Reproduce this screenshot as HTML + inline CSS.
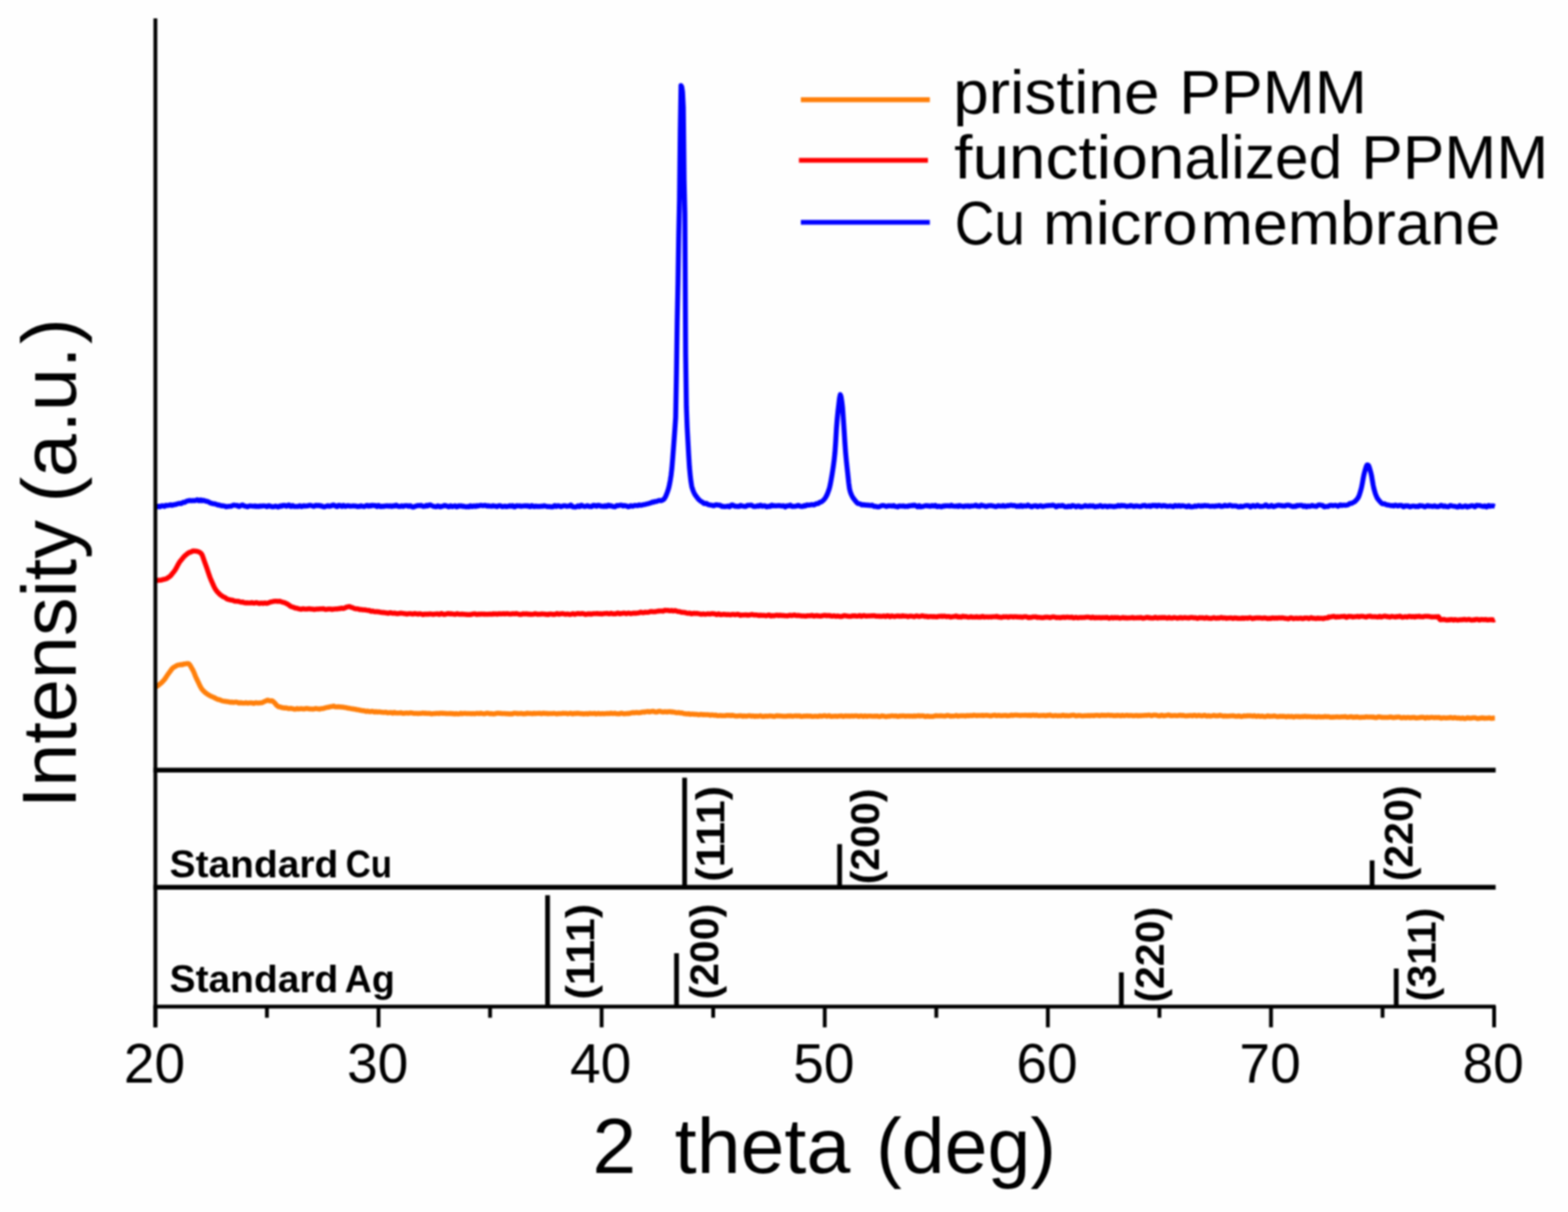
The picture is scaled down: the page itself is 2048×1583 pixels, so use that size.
<!DOCTYPE html>
<html lang="en">
<head>
<meta charset="utf-8">
<title>XRD patterns</title>
<style>
html,body{margin:0;padding:0;background:#fefefe;}
body{width:2048px;height:1583px;overflow:hidden;}
svg{display:block;filter:blur(0.8px);}
text{font-family:"Liberation Sans",sans-serif;fill:#000;}
.ax line{stroke:#000;}
.bold text{font-weight:bold;font-size:50px;}
.bold .r text{font-size:52px;}
.tl text{font-size:72px;}
.lg text{font-size:80px;}
.big{font-size:101px;}
.curve{fill:none;stroke-linejoin:round;stroke-linecap:butt;}
</style>
</head>
<body>
<svg width="2048" height="1583" viewBox="0 0 2048 1583">
<rect x="-10" y="-10" width="2068" height="1603" fill="#fefefe"/>
<g class="curve" stroke-width="6.5">
<path stroke="#ff7f0a" d="M202.5 897.5 L203.5 897.0 L204.5 896.6 L205.5 896.1 L206.5 895.4 L207.5 894.5 L208.5 893.6 L209.5 892.9 L210.5 892.1 L211.5 891.2 L212.5 890.1 L213.5 889.0 L214.5 887.9 L215.5 886.6 L216.5 885.1 L217.5 883.5 L218.5 882.0 L219.5 880.5 L220.5 879.2 L221.5 877.8 L222.5 876.5 L223.5 875.1 L224.5 873.8 L225.5 872.7 L226.5 871.8 L227.5 871.2 L228.5 870.8 L229.5 870.1 L230.5 869.4 L231.5 869.0 L232.5 868.7 L233.5 868.6 L234.5 868.4 L235.5 868.1 L236.5 868.1 L237.5 868.2 L238.5 868.0 L239.5 867.5 L240.5 867.3 L241.5 867.3 L242.5 867.1 L243.5 866.8 L244.5 866.8 L245.5 866.7 L246.5 866.9 L247.5 867.8 L248.5 869.3 L249.5 871.0 L250.5 872.8 L251.5 874.5 L252.5 876.5 L253.5 878.8 L254.5 881.2 L255.5 883.7 L256.5 886.0 L257.5 888.0 L258.5 890.1 L259.5 892.2 L260.5 894.3 L261.5 896.3 L262.5 898.1 L263.5 899.8 L264.5 901.0 L265.5 902.1 L266.5 903.2 L267.5 904.1 L268.5 904.9 L269.5 905.7 L270.5 906.4 L271.5 907.1 L272.5 907.6 L273.5 908.2 L274.5 908.8 L275.5 909.3 L276.5 909.7 L277.5 910.2 L278.5 910.6 L279.5 911.0 L280.5 911.5 L281.5 912.2 L282.5 912.6 L283.5 913.1 L284.5 913.5 L285.5 913.7 L286.5 913.8 L287.5 914.1 L288.5 914.7 L289.5 915.1 L290.5 915.4 L291.5 915.6 L292.5 915.8 L293.5 915.9 L294.5 916.0 L295.5 916.2 L296.5 916.4 L297.5 916.5 L298.5 916.6 L299.5 916.9 L300.5 917.2 L301.5 917.2 L302.5 917.0 L303.5 917.1 L304.5 917.4 L305.5 917.4 L306.5 917.2 L307.5 917.1 L308.5 917.1 L309.5 917.2 L310.5 917.5 L311.5 918.0 L312.5 918.2 L313.5 918.0 L314.5 917.8 L315.5 918.0 L316.5 918.2 L317.5 918.2 L318.5 918.3 L319.5 918.3 L320.5 918.0 L321.5 917.8 L322.5 918.1 L323.5 918.4 L324.5 918.3 L325.5 918.1 L326.5 918.1 L327.5 918.1 L328.5 918.0 L329.5 918.2 L330.5 918.6 L331.5 918.7 L332.5 918.3 L333.5 917.9 L334.5 917.8 L335.5 918.1 L336.5 918.2 L337.5 918.2 L338.5 918.2 L339.5 917.9 L340.5 918.0 L341.5 918.0 L342.5 917.7 L343.5 917.3 L344.5 916.7 L345.5 916.2 L346.5 915.9 L347.5 915.4 L348.5 914.8 L349.5 914.4 L350.5 914.6 L351.5 915.2 L352.5 915.6 L353.5 915.6 L354.5 915.3 L355.5 915.3 L356.5 916.0 L357.5 916.9 L358.5 917.8 L359.5 918.9 L360.5 920.2 L361.5 921.3 L362.5 922.2 L363.5 922.9 L364.5 923.3 L365.5 923.2 L366.5 923.4 L367.5 924.1 L368.5 924.3 L369.5 924.3 L370.5 924.5 L371.5 924.8 L372.5 924.6 L373.5 924.5 L374.5 924.8 L375.5 925.0 L376.5 925.4 L377.5 925.6 L378.5 925.4 L379.5 925.1 L380.5 925.3 L381.5 925.6 L382.5 925.7 L383.5 926.0 L384.5 926.3 L385.5 926.3 L386.5 926.1 L387.5 925.5 L388.5 925.6 L389.5 926.0 L390.5 925.9 L391.5 925.8 L392.5 925.6 L393.5 925.6 L394.5 925.8 L395.5 925.8 L396.5 926.1 L397.5 926.1 L398.5 925.7 L399.5 925.4 L400.5 925.3 L401.5 925.4 L402.5 925.5 L403.5 925.8 L404.5 926.0 L405.5 926.0 L406.5 926.0 L407.5 926.1 L408.5 926.2 L409.5 926.1 L410.5 926.0 L411.5 925.7 L412.5 925.3 L413.5 925.6 L414.5 925.8 L415.5 925.8 L416.5 926.1 L417.5 926.2 L418.5 925.8 L419.5 925.4 L420.5 925.4 L421.5 925.4 L422.5 925.3 L423.5 924.9 L424.5 924.5 L425.5 924.5 L426.5 924.2 L427.5 923.9 L428.5 923.7 L429.5 923.7 L430.5 923.3 L431.5 922.9 L432.5 922.9 L433.5 922.8 L434.5 922.6 L435.5 922.3 L436.5 922.5 L437.5 923.1 L438.5 923.3 L439.5 923.3 L440.5 923.2 L441.5 923.1 L442.5 923.2 L443.5 923.2 L444.5 923.3 L445.5 923.5 L446.5 923.5 L447.5 923.5 L448.5 923.7 L449.5 924.0 L450.5 924.1 L451.5 924.2 L452.5 924.3 L453.5 924.6 L454.5 925.0 L455.5 925.0 L456.5 924.9 L457.5 925.3 L458.5 925.6 L459.5 925.8 L460.5 925.8 L461.5 926.0 L462.5 926.2 L463.5 926.2 L464.5 926.3 L465.5 926.8 L466.5 927.0 L467.5 926.9 L468.5 927.1 L469.5 927.5 L470.5 927.7 L471.5 927.7 L472.5 928.1 L473.5 928.3 L474.5 928.3 L475.5 928.3 L476.5 928.6 L477.5 929.1 L478.5 929.2 L479.5 928.8 L480.5 928.8 L481.5 929.2 L482.5 929.6 L483.5 929.5 L484.5 929.3 L485.5 929.1 L486.5 929.1 L487.5 929.4 L488.5 929.9 L489.5 929.9 L490.5 929.5 L491.5 929.6 L492.5 930.1 L493.5 930.1 L494.5 929.8 L495.5 929.7 L496.5 929.9 L497.5 930.2 L498.5 930.2 L499.5 930.3 L500.5 930.4 L501.5 930.4 L502.5 930.4 L503.5 930.2 L504.5 930.3 L505.5 930.8 L506.5 931.1 L507.5 930.9 L508.5 930.8 L509.5 930.8 L510.5 930.6 L511.5 930.8 L512.5 931.4 L513.5 931.3 L514.5 930.6 L515.5 930.6 L516.5 931.0 L517.5 931.2 L518.5 931.3 L519.5 931.3 L520.5 931.2 L521.5 931.3 L522.5 931.1 L523.5 930.8 L524.5 931.1 L525.5 931.6 L526.5 931.7 L527.5 931.5 L528.5 931.6 L529.5 931.5 L530.5 931.2 L531.5 931.2 L532.5 931.5 L533.5 931.6 L534.5 931.3 L535.5 931.0 L536.5 931.1 L537.5 931.2 L538.5 931.2 L539.5 931.6 L540.5 931.8 L541.5 931.7 L542.5 931.8 L543.5 931.7 L544.5 931.7 L545.5 932.0 L546.5 931.9 L547.5 931.8 L548.5 931.8 L549.5 931.8 L550.5 931.7 L551.5 931.4 L552.5 931.3 L553.5 931.6 L554.5 931.7 L555.5 931.5 L556.5 931.6 L557.5 931.8 L558.5 931.8 L559.5 931.9 L560.5 931.7 L561.5 931.7 L562.5 932.2 L563.5 932.4 L564.5 932.3 L565.5 932.1 L566.5 931.9 L567.5 932.0 L568.5 932.0 L569.5 931.8 L570.5 931.7 L571.5 931.7 L572.5 932.0 L573.5 932.0 L574.5 931.5 L575.5 931.5 L576.5 931.6 L577.5 931.7 L578.5 931.6 L579.5 931.7 L580.5 931.8 L581.5 931.8 L582.5 932.0 L583.5 932.0 L584.5 931.9 L585.5 931.9 L586.5 931.9 L587.5 932.0 L588.5 931.8 L589.5 932.1 L590.5 932.2 L591.5 932.0 L592.5 932.2 L593.5 932.6 L594.5 932.5 L595.5 932.1 L596.5 932.2 L597.5 932.5 L598.5 932.4 L599.5 932.4 L600.5 932.1 L601.5 931.6 L602.5 931.8 L603.5 932.2 L604.5 932.1 L605.5 931.9 L606.5 931.7 L607.5 931.7 L608.5 932.0 L609.5 932.1 L610.5 932.1 L611.5 931.9 L612.5 932.0 L613.5 932.0 L614.5 932.1 L615.5 932.2 L616.5 932.2 L617.5 931.9 L618.5 931.9 L619.5 932.3 L620.5 932.2 L621.5 931.9 L622.5 931.8 L623.5 931.8 L624.5 931.8 L625.5 932.1 L626.5 932.0 L627.5 931.6 L628.5 931.6 L629.5 931.9 L630.5 932.1 L631.5 932.3 L632.5 932.3 L633.5 932.2 L634.5 931.9 L635.5 931.6 L636.5 931.5 L637.5 931.5 L638.5 931.8 L639.5 932.2 L640.5 932.2 L641.5 932.0 L642.5 932.2 L643.5 932.4 L644.5 932.4 L645.5 932.5 L646.5 932.2 L647.5 932.0 L648.5 931.8 L649.5 931.4 L650.5 931.4 L651.5 931.7 L652.5 931.8 L653.5 931.6 L654.5 931.8 L655.5 932.1 L656.5 932.0 L657.5 932.0 L658.5 932.0 L659.5 931.9 L660.5 932.2 L661.5 932.3 L662.5 932.1 L663.5 932.3 L664.5 932.5 L665.5 932.4 L666.5 932.3 L667.5 932.4 L668.5 932.6 L669.5 932.4 L670.5 931.8 L671.5 931.4 L672.5 931.6 L673.5 931.7 L674.5 931.7 L675.5 932.0 L676.5 932.2 L677.5 931.9 L678.5 931.9 L679.5 932.1 L680.5 931.8 L681.5 931.8 L682.5 932.1 L683.5 932.4 L684.5 932.3 L685.5 932.1 L686.5 932.2 L687.5 932.0 L688.5 931.5 L689.5 931.6 L690.5 931.9 L691.5 932.1 L692.5 931.7 L693.5 931.7 L694.5 932.3 L695.5 932.3 L696.5 931.7 L697.5 931.6 L698.5 932.1 L699.5 932.1 L700.5 931.8 L701.5 931.7 L702.5 931.8 L703.5 931.8 L704.5 931.6 L705.5 931.6 L706.5 932.1 L707.5 932.2 L708.5 931.6 L709.5 931.4 L710.5 931.7 L711.5 932.0 L712.5 931.8 L713.5 931.7 L714.5 932.0 L715.5 932.2 L716.5 932.0 L717.5 931.9 L718.5 932.0 L719.5 932.0 L720.5 932.1 L721.5 932.1 L722.5 931.9 L723.5 931.7 L724.5 931.9 L725.5 932.1 L726.5 932.3 L727.5 932.4 L728.5 932.2 L729.5 932.0 L730.5 932.1 L731.5 932.1 L732.5 932.1 L733.5 932.1 L734.5 931.7 L735.5 931.6 L736.5 931.8 L737.5 931.8 L738.5 931.7 L739.5 931.7 L740.5 932.0 L741.5 932.3 L742.5 932.1 L743.5 931.8 L744.5 931.7 L745.5 931.6 L746.5 931.8 L747.5 932.4 L748.5 932.3 L749.5 931.8 L750.5 931.8 L751.5 932.0 L752.5 932.0 L753.5 931.6 L754.5 931.6 L755.5 931.9 L756.5 931.8 L757.5 931.9 L758.5 932.2 L759.5 932.2 L760.5 932.1 L761.5 932.4 L762.5 932.5 L763.5 932.3 L764.5 932.3 L765.5 932.1 L766.5 932.1 L767.5 932.5 L768.5 932.3 L769.5 931.8 L770.5 931.8 L771.5 931.9 L772.5 932.1 L773.5 932.1 L774.5 932.0 L775.5 931.9 L776.5 931.8 L777.5 932.0 L778.5 932.4 L779.5 932.3 L780.5 931.9 L781.5 931.8 L782.5 932.0 L783.5 932.2 L784.5 932.3 L785.5 932.2 L786.5 932.1 L787.5 932.1 L788.5 932.3 L789.5 932.3 L790.5 931.9 L791.5 931.9 L792.5 932.1 L793.5 931.9 L794.5 931.8 L795.5 932.1 L796.5 932.0 L797.5 931.6 L798.5 931.5 L799.5 931.8 L800.5 932.0 L801.5 932.0 L802.5 931.7 L803.5 931.6 L804.5 932.1 L805.5 932.2 L806.5 932.2 L807.5 932.2 L808.5 932.4 L809.5 932.2 L810.5 931.6 L811.5 931.4 L812.5 931.6 L813.5 932.0 L814.5 932.2 L815.5 932.2 L816.5 932.2 L817.5 932.1 L818.5 932.1 L819.5 932.0 L820.5 931.8 L821.5 931.9 L822.5 931.8 L823.5 931.4 L824.5 931.1 L825.5 931.1 L826.5 930.8 L827.5 930.8 L828.5 931.0 L829.5 931.0 L830.5 930.7 L831.5 930.6 L832.5 930.7 L833.5 930.9 L834.5 931.0 L835.5 930.8 L836.5 930.7 L837.5 930.5 L838.5 930.2 L839.5 930.0 L840.5 929.9 L841.5 930.2 L842.5 930.0 L843.5 929.7 L844.5 929.6 L845.5 929.4 L846.5 929.3 L847.5 929.7 L848.5 929.9 L849.5 929.6 L850.5 929.2 L851.5 929.2 L852.5 929.1 L853.5 929.1 L854.5 929.4 L855.5 929.9 L856.5 930.1 L857.5 930.1 L858.5 929.9 L859.5 929.3 L860.5 929.1 L861.5 929.0 L862.5 929.1 L863.5 929.6 L864.5 929.7 L865.5 929.9 L866.5 930.0 L867.5 929.7 L868.5 929.6 L869.5 929.8 L870.5 929.8 L871.5 930.0 L872.5 929.8 L873.5 929.4 L874.5 929.4 L875.5 929.7 L876.5 930.0 L877.5 929.8 L878.5 929.8 L879.5 930.1 L880.5 930.2 L881.5 930.4 L882.5 930.7 L883.5 930.8 L884.5 930.9 L885.5 930.8 L886.5 930.6 L887.5 930.9 L888.5 931.3 L889.5 931.2 L890.5 931.1 L891.5 931.4 L892.5 931.8 L893.5 932.1 L894.5 932.2 L895.5 932.2 L896.5 932.4 L897.5 932.5 L898.5 932.5 L899.5 932.2 L900.5 932.5 L901.5 932.9 L902.5 932.8 L903.5 932.7 L904.5 932.6 L905.5 932.8 L906.5 932.9 L907.5 932.8 L908.5 933.1 L909.5 933.0 L910.5 932.9 L911.5 933.3 L912.5 933.6 L913.5 933.6 L914.5 933.2 L915.5 932.9 L916.5 933.1 L917.5 933.5 L918.5 933.5 L919.5 933.3 L920.5 933.4 L921.5 933.6 L922.5 933.6 L923.5 933.4 L924.5 933.6 L925.5 933.6 L926.5 933.9 L927.5 934.2 L928.5 934.0 L929.5 933.8 L930.5 933.7 L931.5 933.9 L932.5 934.3 L933.5 934.2 L934.5 934.0 L935.5 934.1 L936.5 934.6 L937.5 934.8 L938.5 934.8 L939.5 934.6 L940.5 934.4 L941.5 934.5 L942.5 934.7 L943.5 934.8 L944.5 934.8 L945.5 934.8 L946.5 934.8 L947.5 934.7 L948.5 934.5 L949.5 934.2 L950.5 934.4 L951.5 934.6 L952.5 934.3 L953.5 934.4 L954.5 934.7 L955.5 934.5 L956.5 934.2 L957.5 934.4 L958.5 934.8 L959.5 934.9 L960.5 935.0 L961.5 935.3 L962.5 935.3 L963.5 935.0 L964.5 935.1 L965.5 935.1 L966.5 934.9 L967.5 934.7 L968.5 934.9 L969.5 935.5 L970.5 935.5 L971.5 935.0 L972.5 935.0 L973.5 935.3 L974.5 935.4 L975.5 935.3 L976.5 935.0 L977.5 934.9 L978.5 934.8 L979.5 934.7 L980.5 935.1 L981.5 935.5 L982.5 935.2 L983.5 935.0 L984.5 935.4 L985.5 935.7 L986.5 935.5 L987.5 935.3 L988.5 935.5 L989.5 935.6 L990.5 935.4 L991.5 935.3 L992.5 934.9 L993.5 934.8 L994.5 935.3 L995.5 935.7 L996.5 935.7 L997.5 935.6 L998.5 935.7 L999.5 935.4 L1000.5 935.2 L1001.5 935.5 L1002.5 935.6 L1003.5 935.2 L1004.5 935.2 L1005.5 935.1 L1006.5 935.0 L1007.5 935.3 L1008.5 935.3 L1009.5 935.5 L1010.5 935.8 L1011.5 935.8 L1012.5 935.5 L1013.5 935.1 L1014.5 934.7 L1015.5 934.9 L1016.5 935.2 L1017.5 935.1 L1018.5 935.1 L1019.5 935.2 L1020.5 935.3 L1021.5 935.3 L1022.5 935.4 L1023.5 935.5 L1024.5 935.4 L1025.5 935.5 L1026.5 935.6 L1027.5 935.5 L1028.5 935.2 L1029.5 935.1 L1030.5 935.2 L1031.5 935.2 L1032.5 935.0 L1033.5 935.1 L1034.5 935.4 L1035.5 935.4 L1036.5 935.3 L1037.5 935.1 L1038.5 935.1 L1039.5 935.0 L1040.5 935.0 L1041.5 935.2 L1042.5 935.1 L1043.5 934.9 L1044.5 935.0 L1045.5 935.5 L1046.5 935.7 L1047.5 935.7 L1048.5 935.6 L1049.5 935.5 L1050.5 935.3 L1051.5 935.3 L1052.5 935.4 L1053.5 935.2 L1054.5 935.1 L1055.5 935.4 L1056.5 935.3 L1057.5 935.2 L1058.5 935.3 L1059.5 935.5 L1060.5 935.7 L1061.5 935.7 L1062.5 935.7 L1063.5 935.6 L1064.5 935.6 L1065.5 935.6 L1066.5 935.6 L1067.5 935.7 L1068.5 935.8 L1069.5 935.5 L1070.5 935.0 L1071.5 935.2 L1072.5 935.5 L1073.5 935.3 L1074.5 935.2 L1075.5 935.1 L1076.5 934.7 L1077.5 934.7 L1078.5 935.1 L1079.5 935.4 L1080.5 935.5 L1081.5 935.2 L1082.5 934.8 L1083.5 934.8 L1084.5 935.3 L1085.5 935.8 L1086.5 935.8 L1087.5 935.5 L1088.5 935.4 L1089.5 935.5 L1090.5 935.4 L1091.5 935.2 L1092.5 935.6 L1093.5 935.8 L1094.5 935.4 L1095.5 935.2 L1096.5 935.3 L1097.5 935.2 L1098.5 935.0 L1099.5 935.0 L1100.5 935.5 L1101.5 935.8 L1102.5 935.5 L1103.5 935.2 L1104.5 935.0 L1105.5 935.2 L1106.5 935.4 L1107.5 935.2 L1108.5 935.1 L1109.5 935.5 L1110.5 935.5 L1111.5 935.2 L1112.5 935.0 L1113.5 935.2 L1114.5 935.4 L1115.5 935.2 L1116.5 935.0 L1117.5 935.0 L1118.5 935.0 L1119.5 935.1 L1120.5 935.3 L1121.5 935.7 L1122.5 935.6 L1123.5 935.1 L1124.5 934.9 L1125.5 935.1 L1126.5 935.5 L1127.5 935.7 L1128.5 935.5 L1129.5 935.1 L1130.5 935.2 L1131.5 935.6 L1132.5 935.7 L1133.5 935.4 L1134.5 935.2 L1135.5 935.2 L1136.5 935.2 L1137.5 935.2 L1138.5 935.4 L1139.5 935.5 L1140.5 935.4 L1141.5 935.4 L1142.5 935.3 L1143.5 935.5 L1144.5 935.5 L1145.5 935.2 L1146.5 935.3 L1147.5 935.8 L1148.5 935.9 L1149.5 935.8 L1150.5 935.5 L1151.5 935.1 L1152.5 935.1 L1153.5 935.3 L1154.5 935.3 L1155.5 935.7 L1156.5 936.0 L1157.5 935.9 L1158.5 935.8 L1159.5 935.5 L1160.5 935.4 L1161.5 935.6 L1162.5 935.5 L1163.5 935.2 L1164.5 934.9 L1165.5 934.9 L1166.5 935.1 L1167.5 935.2 L1168.5 935.3 L1169.5 935.2 L1170.5 935.0 L1171.5 935.3 L1172.5 935.8 L1173.5 935.7 L1174.5 935.3 L1175.5 935.1 L1176.5 935.2 L1177.5 935.2 L1178.5 935.0 L1179.5 934.9 L1180.5 934.9 L1181.5 935.4 L1182.5 935.6 L1183.5 935.3 L1184.5 935.3 L1185.5 935.3 L1186.5 935.1 L1187.5 935.3 L1188.5 935.5 L1189.5 935.2 L1190.5 935.2 L1191.5 935.5 L1192.5 935.6 L1193.5 935.1 L1194.5 935.0 L1195.5 935.4 L1196.5 935.3 L1197.5 935.0 L1198.5 934.9 L1199.5 934.8 L1200.5 935.0 L1201.5 935.2 L1202.5 935.0 L1203.5 934.9 L1204.5 935.1 L1205.5 935.0 L1206.5 935.1 L1207.5 935.6 L1208.5 935.9 L1209.5 935.7 L1210.5 935.5 L1211.5 935.3 L1212.5 935.5 L1213.5 935.7 L1214.5 935.7 L1215.5 935.7 L1216.5 935.7 L1217.5 935.7 L1218.5 935.8 L1219.5 935.5 L1220.5 935.2 L1221.5 935.0 L1222.5 934.8 L1223.5 935.0 L1224.5 935.1 L1225.5 935.0 L1226.5 935.0 L1227.5 934.9 L1228.5 934.8 L1229.5 935.0 L1230.5 935.1 L1231.5 935.1 L1232.5 935.2 L1233.5 935.3 L1234.5 935.3 L1235.5 935.0 L1236.5 934.6 L1237.5 934.5 L1238.5 934.6 L1239.5 934.7 L1240.5 935.1 L1241.5 935.4 L1242.5 935.3 L1243.5 935.2 L1244.5 935.3 L1245.5 935.3 L1246.5 935.1 L1247.5 934.9 L1248.5 934.5 L1249.5 934.6 L1250.5 935.2 L1251.5 935.4 L1252.5 935.1 L1253.5 935.0 L1254.5 934.9 L1255.5 934.7 L1256.5 935.0 L1257.5 935.0 L1258.5 934.7 L1259.5 934.9 L1260.5 935.2 L1261.5 935.2 L1262.5 934.7 L1263.5 934.5 L1264.5 934.8 L1265.5 934.9 L1266.5 934.7 L1267.5 934.4 L1268.5 934.4 L1269.5 934.8 L1270.5 934.6 L1271.5 934.1 L1272.5 934.2 L1273.5 934.4 L1274.5 934.4 L1275.5 934.7 L1276.5 934.7 L1277.5 934.4 L1278.5 934.4 L1279.5 934.4 L1280.5 934.5 L1281.5 934.6 L1282.5 934.3 L1283.5 934.5 L1284.5 934.7 L1285.5 934.4 L1286.5 934.4 L1287.5 934.3 L1288.5 934.2 L1289.5 934.4 L1290.5 934.6 L1291.5 934.6 L1292.5 934.8 L1293.5 935.1 L1294.5 935.0 L1295.5 934.6 L1296.5 934.4 L1297.5 934.3 L1298.5 934.2 L1299.5 934.1 L1300.5 934.5 L1301.5 934.8 L1302.5 934.7 L1303.5 934.4 L1304.5 934.3 L1305.5 934.4 L1306.5 934.7 L1307.5 934.8 L1308.5 934.8 L1309.5 934.7 L1310.5 934.4 L1311.5 934.4 L1312.5 934.4 L1313.5 934.3 L1314.5 934.6 L1315.5 934.9 L1316.5 934.8 L1317.5 934.8 L1318.5 934.7 L1319.5 934.3 L1320.5 934.0 L1321.5 934.1 L1322.5 934.5 L1323.5 934.3 L1324.5 934.1 L1325.5 934.1 L1326.5 934.0 L1327.5 934.0 L1328.5 934.1 L1329.5 934.2 L1330.5 934.2 L1331.5 934.4 L1332.5 934.6 L1333.5 934.5 L1334.5 934.2 L1335.5 934.2 L1336.5 934.3 L1337.5 934.3 L1338.5 934.2 L1339.5 934.1 L1340.5 934.3 L1341.5 934.3 L1342.5 934.5 L1343.5 934.5 L1344.5 934.1 L1345.5 934.3 L1346.5 934.7 L1347.5 934.4 L1348.5 934.0 L1349.5 933.9 L1350.5 934.2 L1351.5 934.6 L1352.5 934.4 L1353.5 934.0 L1354.5 934.2 L1355.5 934.6 L1356.5 934.8 L1357.5 934.8 L1358.5 934.5 L1359.5 934.4 L1360.5 934.5 L1361.5 934.6 L1362.5 934.5 L1363.5 934.3 L1364.5 934.6 L1365.5 934.9 L1366.5 934.7 L1367.5 934.3 L1368.5 934.3 L1369.5 934.5 L1370.5 934.1 L1371.5 933.8 L1372.5 934.3 L1373.5 934.7 L1374.5 934.7 L1375.5 934.9 L1376.5 934.9 L1377.5 934.6 L1378.5 934.4 L1379.5 934.6 L1380.5 934.8 L1381.5 934.9 L1382.5 934.8 L1383.5 934.7 L1384.5 934.7 L1385.5 934.9 L1386.5 934.8 L1387.5 934.3 L1388.5 934.1 L1389.5 934.3 L1390.5 934.8 L1391.5 934.9 L1392.5 934.6 L1393.5 934.6 L1394.5 934.9 L1395.5 934.9 L1396.5 934.8 L1397.5 934.7 L1398.5 934.5 L1399.5 934.3 L1400.5 934.2 L1401.5 934.1 L1402.5 934.1 L1403.5 934.3 L1404.5 934.8 L1405.5 935.0 L1406.5 934.9 L1407.5 934.7 L1408.5 934.5 L1409.5 934.5 L1410.5 934.6 L1411.5 934.7 L1412.5 935.0 L1413.5 935.1 L1414.5 935.0 L1415.5 934.9 L1416.5 934.8 L1417.5 934.7 L1418.5 934.7 L1419.5 934.8 L1420.5 934.7 L1421.5 934.5 L1422.5 934.7 L1423.5 935.0 L1424.5 934.7 L1425.5 934.4 L1426.5 934.6 L1427.5 934.7 L1428.5 934.6 L1429.5 934.7 L1430.5 934.4 L1431.5 934.2 L1432.5 934.3 L1433.5 934.2 L1434.5 934.4 L1435.5 934.7 L1436.5 934.7 L1437.5 934.5 L1438.5 934.2 L1439.5 934.1 L1440.5 934.3 L1441.5 934.5 L1442.5 934.2 L1443.5 934.3 L1444.5 934.6 L1445.5 934.4 L1446.5 934.1 L1447.5 933.9 L1448.5 934.1 L1449.5 934.5 L1450.5 934.5 L1451.5 934.2 L1452.5 934.2 L1453.5 934.7 L1454.5 934.8 L1455.5 934.5 L1456.5 934.6 L1457.5 934.8 L1458.5 934.5 L1459.5 934.3 L1460.5 934.4 L1461.5 934.5 L1462.5 934.6 L1463.5 934.9 L1464.5 934.8 L1465.5 934.3 L1466.5 934.2 L1467.5 934.8 L1468.5 934.8 L1469.5 934.6 L1470.5 934.4 L1471.5 934.2 L1472.5 934.3 L1473.5 934.6 L1474.5 934.7 L1475.5 934.6 L1476.5 934.6 L1477.5 934.4 L1478.5 934.5 L1479.5 934.8 L1480.5 934.9 L1481.5 934.7 L1482.5 934.7 L1483.5 934.5 L1484.5 934.4 L1485.5 934.5 L1486.5 934.9 L1487.5 934.8 L1488.5 934.6 L1489.5 934.7 L1490.5 934.7 L1491.5 934.6 L1492.5 934.4 L1493.5 934.5 L1494.5 934.6 L1495.5 934.2 L1496.5 934.2 L1497.5 934.4 L1498.5 934.3 L1499.5 934.1 L1500.5 934.0 L1501.5 934.0 L1502.5 934.3 L1503.5 934.7 L1504.5 934.7 L1505.5 934.3 L1506.5 934.0 L1507.5 933.9 L1508.5 934.0 L1509.5 934.1 L1510.5 934.2 L1511.5 934.5 L1512.5 934.8 L1513.5 934.9 L1514.5 935.1 L1515.5 934.9 L1516.5 934.3 L1517.5 934.1 L1518.5 934.4 L1519.5 934.9 L1520.5 935.0 L1521.5 934.7 L1522.5 934.5 L1523.5 934.4 L1524.5 934.2 L1525.5 933.9 L1526.5 933.8 L1527.5 934.1 L1528.5 934.7 L1529.5 934.7 L1530.5 934.6 L1531.5 934.8 L1532.5 934.6 L1533.5 934.4 L1534.5 934.5 L1535.5 934.6 L1536.5 934.8 L1537.5 934.8 L1538.5 934.6 L1539.5 934.6 L1540.5 934.3 L1541.5 934.1 L1542.5 934.4 L1543.5 934.7 L1544.5 934.4 L1545.5 934.3 L1546.5 934.7 L1547.5 934.9 L1548.5 934.9 L1549.5 935.1 L1550.5 935.0 L1551.5 934.8 L1552.5 934.8 L1553.5 934.7 L1554.5 934.4 L1555.5 934.4 L1556.5 934.8 L1557.5 934.9 L1558.5 934.5 L1559.5 934.2 L1560.5 934.3 L1561.5 934.5 L1562.5 934.9 L1563.5 934.9 L1564.5 934.6 L1565.5 934.3 L1566.5 934.4 L1567.5 934.7 L1568.5 934.8 L1569.5 935.0 L1570.5 935.0 L1571.5 934.6 L1572.5 934.3 L1573.5 934.2 L1574.5 934.5 L1575.5 935.1 L1576.5 935.3 L1577.5 935.0 L1578.5 934.8 L1579.5 935.0 L1580.5 935.2 L1581.5 935.2 L1582.5 935.1 L1583.5 934.9 L1584.5 934.6 L1585.5 934.3 L1586.5 934.6 L1587.5 935.0 L1588.5 934.9 L1589.5 934.8 L1590.5 935.1 L1591.5 934.9 L1592.5 934.5 L1593.5 934.3 L1594.5 934.5 L1595.5 934.8 L1596.5 935.0 L1597.5 935.3 L1598.5 935.4 L1599.5 935.1 L1600.5 935.0 L1601.5 935.3 L1602.5 935.4 L1603.5 935.2 L1604.5 935.3 L1605.5 935.3 L1606.5 935.1 L1607.5 935.0 L1608.5 934.9 L1609.5 934.9 L1610.5 934.8 L1611.5 934.9 L1612.5 935.3 L1613.5 935.4 L1614.5 935.5 L1615.5 935.6 L1616.5 935.5 L1617.5 935.1 L1618.5 935.0 L1619.5 935.3 L1620.5 935.7 L1621.5 935.9 L1622.5 935.7 L1623.5 935.4 L1624.5 935.1 L1625.5 935.0 L1626.5 935.2 L1627.5 935.3 L1628.5 935.0 L1629.5 934.8 L1630.5 934.9 L1631.5 934.9 L1632.5 934.8 L1633.5 934.9 L1634.5 935.0 L1635.5 935.2 L1636.5 935.4 L1637.5 935.0 L1638.5 934.8 L1639.5 935.2 L1640.5 935.8 L1641.5 935.8 L1642.5 935.2 L1643.5 935.1 L1644.5 935.4 L1645.5 935.5 L1646.5 935.7 L1647.5 935.6 L1648.5 935.3 L1649.5 935.4 L1650.5 935.8 L1651.5 936.1 L1652.5 936.1 L1653.5 935.9 L1654.5 935.4 L1655.5 935.0 L1656.5 935.1 L1657.5 935.6 L1658.5 935.7 L1659.5 935.4 L1660.5 935.4 L1661.5 935.6 L1662.5 935.6 L1663.5 935.2 L1664.5 935.0 L1665.5 935.3 L1666.5 935.6 L1667.5 935.8 L1668.5 936.1 L1669.5 936.1 L1670.5 935.9 L1671.5 935.5 L1672.5 935.4 L1673.5 935.8 L1674.5 935.7 L1675.5 935.5 L1676.5 935.7 L1677.5 935.8 L1678.5 935.8 L1679.5 936.2 L1680.5 936.2 L1681.5 935.8 L1682.5 935.5 L1683.5 935.8 L1684.5 936.1 L1685.5 936.0 L1686.5 935.8 L1687.5 935.7 L1688.5 936.0 L1689.5 936.5 L1690.5 936.4 L1691.5 935.9 L1692.5 935.7 L1693.5 935.9 L1694.5 936.1 L1695.5 936.0 L1696.5 935.8 L1697.5 936.2 L1698.5 936.3 L1699.5 935.9 L1700.5 935.8 L1701.5 936.1 L1702.5 936.2 L1703.5 935.7 L1704.5 935.5 L1705.5 935.9 L1706.5 936.2 L1707.5 935.9 L1708.5 935.8 L1709.5 935.9 L1710.5 935.9 L1711.5 936.1 L1712.5 936.1 L1713.5 936.2 L1714.5 936.3 L1715.5 936.2 L1716.5 936.0 L1717.5 936.1 L1718.5 936.4 L1719.5 936.6 L1720.5 936.3 L1721.5 935.9 L1722.5 936.0 L1723.5 936.2 L1724.5 936.4 L1725.5 936.4 L1726.5 936.2 L1727.5 936.3 L1728.5 936.4 L1729.5 936.2 L1730.5 935.8 L1731.5 935.9 L1732.5 936.2 L1733.5 936.2 L1734.5 936.1 L1735.5 936.0 L1736.5 936.3 L1737.5 936.7 L1738.5 936.8 L1739.5 936.7 L1740.5 936.5 L1741.5 936.7 L1742.5 936.6 L1743.5 936.4 L1744.5 936.4 L1745.5 936.3 L1746.5 936.2 L1747.5 936.4 L1748.5 936.4 L1749.5 936.4 L1750.5 936.5 L1751.5 936.4 L1752.5 936.2 L1753.5 936.3 L1754.5 936.4 L1755.5 936.2 L1756.5 936.0 L1757.5 936.1 L1758.5 936.5 L1759.5 936.7 L1760.5 936.7 L1761.5 936.6 L1762.5 936.5 L1763.5 936.3 L1764.5 936.0 L1765.5 936.2 L1766.5 936.8 L1767.5 936.9 L1768.5 936.6 L1769.5 936.5 L1770.5 936.7 L1771.5 936.5 L1772.5 936.3 L1773.5 936.5 L1774.5 936.8 L1775.5 936.9 L1776.5 937.1 L1777.5 937.0 L1778.5 936.8 L1779.5 936.8 L1780.5 936.8 L1781.5 936.7 L1782.5 936.7 L1783.5 936.5 L1784.5 936.2 L1785.5 936.4 L1786.5 936.5 L1787.5 936.4 L1788.5 936.4 L1789.5 936.5 L1790.5 936.5 L1791.5 936.6 L1792.5 936.7 L1793.5 936.5 L1794.5 936.5 L1795.5 937.1 L1796.5 937.3 L1797.5 937.2 L1798.5 937.0 L1799.5 936.5 L1800.5 936.2 L1801.5 936.2 L1802.5 936.5 L1803.5 936.8 L1804.5 936.8 L1805.5 937.0 L1806.5 937.1 L1807.5 937.1 L1808.5 937.1 L1809.5 936.9 L1810.5 936.9 L1811.5 936.9 L1812.5 937.0 L1813.5 937.0 L1814.5 936.7 L1815.5 936.5 L1816.5 936.7 L1817.5 936.6 L1818.5 936.8 L1819.5 937.3 L1820.5 937.3 L1821.5 936.9 L1822.5 936.8 L1823.5 936.9 L1824.5 936.7 L1825.5 936.6 L1826.5 936.6 L1827.5 936.6 L1828.5 936.8 L1829.5 937.3 L1830.5 937.6 L1831.5 937.6 L1832.5 937.2 L1833.5 936.9 L1834.5 937.1 L1835.5 937.4 L1836.5 937.5 L1837.5 937.3 L1838.5 936.9 L1839.5 936.9 L1840.5 937.3 L1841.5 937.5 L1842.5 937.5 L1843.5 937.3 L1844.5 937.1 L1845.5 937.2 L1846.5 937.1 L1847.5 937.0 L1848.5 937.5 L1849.5 937.8 L1850.5 937.7 L1851.5 937.6 L1852.5 937.6 L1853.5 937.4 L1854.5 937.1 L1855.5 937.2 L1856.5 936.9 L1857.5 936.8 L1858.5 937.1 L1859.5 937.1 L1860.5 937.5 L1861.5 937.9 L1862.5 937.5 L1863.5 937.0 L1864.5 937.1 L1865.5 937.5 L1866.5 937.5 L1867.5 937.3 L1868.5 937.0 L1869.5 936.9 L1870.5 937.0 L1871.5 937.1 L1872.5 937.3 L1873.5 937.4 L1874.5 937.2 L1875.5 937.1 L1876.5 937.3 L1877.5 937.3 L1878.5 937.2 L1879.5 937.0 L1880.5 937.3 L1881.5 937.8 L1882.5 938.0 L1883.5 937.8 L1884.5 937.5 L1885.5 937.5 L1886.5 937.4 L1887.5 937.6 L1888.5 937.8 L1889.5 937.8 L1890.5 937.6 L1891.5 937.6 L1892.5 937.6 L1893.5 937.5 L1894.5 937.1 L1895.5 937.2 L1896.5 937.6 L1897.5 937.8 L1898.5 937.7 L1899.5 937.3 L1900.5 937.2 L1901.5 937.6 L1902.5 937.8 L1903.5 937.9 L1904.5 937.8 L1905.5 937.7 L1906.5 938.0 L1907.5 938.3 L1908.5 938.2 L1909.5 937.9 L1910.5 937.7 L1911.5 938.0 L1912.5 938.4 L1913.5 938.4 L1914.5 938.3 L1915.5 938.0 L1916.5 937.5 L1917.5 937.4 L1918.5 937.8 L1919.5 938.1 L1920.5 937.9 L1921.5 937.9 L1922.5 937.8 L1923.5 937.5 L1924.5 937.5 L1925.5 937.5 L1926.5 937.4 L1927.5 937.6 L1928.5 938.1 L1929.5 938.4 L1930.5 938.4 L1931.5 938.3 L1932.5 938.0 L1933.5 937.9 L1934.5 938.1 L1935.5 937.7 L1936.5 937.5 L1937.5 937.9 L1938.5 938.2 L1939.5 938.0 L1940.5 937.9 L1941.5 937.9 L1942.5 937.9 L1943.5 937.9 L1944.5 937.7 L1945.5 937.6 L1946.5 938.0 L1947.5 938.3 L1948.5 938.3 L1949.5 938.0 L1950.5 937.8 L1951.5 937.9 L1952.5 937.9"/>
<path stroke="#ff0000" d="M202.5 757.5 L203.5 757.9 L204.5 758.1 L205.5 757.9 L206.5 757.8 L207.5 757.9 L208.5 757.8 L209.5 757.8 L210.5 757.7 L211.5 757.4 L212.5 757.0 L213.5 756.8 L214.5 756.6 L215.5 756.3 L216.5 756.0 L217.5 755.8 L218.5 755.2 L219.5 754.4 L220.5 753.8 L221.5 753.2 L222.5 752.3 L223.5 751.2 L224.5 749.9 L225.5 748.7 L226.5 747.5 L227.5 746.2 L228.5 744.8 L229.5 743.2 L230.5 741.4 L231.5 739.5 L232.5 737.6 L233.5 735.8 L234.5 734.2 L235.5 732.8 L236.5 731.7 L237.5 730.5 L238.5 729.2 L239.5 728.0 L240.5 726.9 L241.5 725.9 L242.5 725.0 L243.5 724.2 L244.5 723.4 L245.5 722.6 L246.5 722.0 L247.5 721.5 L248.5 721.3 L249.5 721.0 L250.5 720.4 L251.5 719.8 L252.5 719.6 L253.5 719.7 L254.5 719.8 L255.5 719.8 L256.5 719.9 L257.5 720.1 L258.5 720.4 L259.5 720.8 L260.5 721.2 L261.5 721.9 L262.5 722.7 L263.5 723.9 L264.5 726.0 L265.5 728.8 L266.5 731.7 L267.5 734.7 L268.5 737.4 L269.5 740.1 L270.5 743.0 L271.5 746.0 L272.5 749.0 L273.5 751.8 L274.5 754.6 L275.5 757.1 L276.5 759.4 L277.5 761.6 L278.5 763.9 L279.5 766.1 L280.5 768.1 L281.5 769.8 L282.5 771.3 L283.5 772.6 L284.5 773.7 L285.5 774.6 L286.5 775.6 L287.5 776.6 L288.5 777.3 L289.5 778.0 L290.5 778.8 L291.5 779.4 L292.5 779.8 L293.5 780.2 L294.5 780.8 L295.5 781.6 L296.5 782.3 L297.5 782.7 L298.5 782.9 L299.5 783.2 L300.5 783.6 L301.5 783.7 L302.5 783.8 L303.5 784.0 L304.5 784.2 L305.5 784.7 L306.5 785.3 L307.5 785.3 L308.5 785.1 L309.5 785.3 L310.5 785.4 L311.5 785.3 L312.5 785.7 L313.5 786.2 L314.5 786.5 L315.5 786.5 L316.5 786.3 L317.5 786.5 L318.5 787.0 L319.5 787.2 L320.5 787.4 L321.5 787.5 L322.5 787.3 L323.5 787.5 L324.5 787.5 L325.5 787.4 L326.5 787.6 L327.5 787.6 L328.5 787.1 L329.5 787.1 L330.5 787.6 L331.5 787.8 L332.5 787.7 L333.5 787.4 L334.5 787.1 L335.5 787.2 L336.5 787.5 L337.5 787.9 L338.5 788.2 L339.5 788.0 L340.5 787.8 L341.5 787.6 L342.5 787.9 L343.5 788.2 L344.5 787.9 L345.5 787.5 L346.5 787.6 L347.5 787.9 L348.5 788.0 L349.5 787.8 L350.5 787.4 L351.5 787.0 L352.5 786.7 L353.5 786.3 L354.5 786.1 L355.5 785.9 L356.5 785.6 L357.5 785.4 L358.5 785.3 L359.5 785.2 L360.5 785.2 L361.5 785.2 L362.5 785.5 L363.5 785.6 L364.5 785.2 L365.5 785.3 L366.5 785.7 L367.5 786.0 L368.5 786.3 L369.5 786.6 L370.5 786.9 L371.5 787.1 L372.5 787.5 L373.5 788.1 L374.5 788.5 L375.5 789.0 L376.5 789.7 L377.5 790.3 L378.5 791.1 L379.5 791.9 L380.5 792.3 L381.5 792.7 L382.5 793.0 L383.5 793.2 L384.5 793.6 L385.5 794.2 L386.5 794.3 L387.5 794.3 L388.5 794.6 L389.5 795.0 L390.5 795.2 L391.5 795.4 L392.5 795.7 L393.5 795.7 L394.5 795.3 L395.5 795.0 L396.5 795.2 L397.5 795.5 L398.5 795.6 L399.5 795.5 L400.5 795.4 L401.5 795.5 L402.5 795.3 L403.5 794.9 L404.5 795.1 L405.5 795.5 L406.5 795.6 L407.5 795.5 L408.5 795.6 L409.5 795.9 L410.5 796.0 L411.5 795.8 L412.5 795.7 L413.5 795.6 L414.5 795.6 L415.5 795.6 L416.5 795.4 L417.5 795.3 L418.5 795.3 L419.5 795.3 L420.5 795.3 L421.5 795.1 L422.5 795.1 L423.5 795.4 L424.5 795.9 L425.5 796.1 L426.5 795.9 L427.5 795.7 L428.5 795.4 L429.5 795.4 L430.5 795.6 L431.5 795.5 L432.5 795.5 L433.5 796.0 L434.5 795.9 L435.5 795.6 L436.5 795.6 L437.5 795.6 L438.5 795.2 L439.5 795.3 L440.5 795.4 L441.5 795.1 L442.5 794.8 L443.5 795.0 L444.5 794.9 L445.5 794.4 L446.5 794.2 L447.5 794.7 L448.5 794.8 L449.5 794.4 L450.5 794.0 L451.5 793.5 L452.5 793.0 L453.5 792.8 L454.5 792.6 L455.5 792.2 L456.5 792.2 L457.5 792.6 L458.5 793.2 L459.5 793.5 L460.5 793.6 L461.5 794.1 L462.5 794.6 L463.5 794.9 L464.5 795.0 L465.5 795.2 L466.5 795.2 L467.5 795.2 L468.5 795.7 L469.5 796.2 L470.5 796.2 L471.5 795.9 L472.5 796.1 L473.5 796.6 L474.5 796.6 L475.5 796.4 L476.5 796.5 L477.5 796.7 L478.5 796.9 L479.5 797.1 L480.5 797.3 L481.5 797.2 L482.5 797.3 L483.5 797.9 L484.5 798.5 L485.5 798.4 L486.5 798.1 L487.5 798.2 L488.5 798.8 L489.5 799.0 L490.5 798.9 L491.5 798.8 L492.5 798.9 L493.5 799.2 L494.5 799.1 L495.5 799.2 L496.5 799.7 L497.5 799.8 L498.5 799.8 L499.5 800.1 L500.5 800.2 L501.5 799.9 L502.5 800.1 L503.5 800.6 L504.5 800.6 L505.5 800.5 L506.5 800.9 L507.5 800.9 L508.5 800.5 L509.5 800.2 L510.5 800.3 L511.5 800.7 L512.5 801.1 L513.5 801.1 L514.5 800.8 L515.5 800.8 L516.5 801.0 L517.5 801.3 L518.5 801.5 L519.5 801.5 L520.5 801.3 L521.5 801.2 L522.5 800.9 L523.5 800.8 L524.5 800.9 L525.5 801.1 L526.5 801.2 L527.5 801.4 L528.5 801.5 L529.5 801.4 L530.5 802.0 L531.5 802.1 L532.5 801.8 L533.5 801.6 L534.5 801.5 L535.5 801.5 L536.5 801.4 L537.5 801.6 L538.5 802.1 L539.5 802.0 L540.5 801.6 L541.5 801.3 L542.5 801.5 L543.5 801.8 L544.5 801.7 L545.5 802.0 L546.5 802.2 L547.5 801.7 L548.5 801.6 L549.5 801.8 L550.5 801.9 L551.5 802.5 L552.5 802.8 L553.5 802.5 L554.5 802.1 L555.5 802.2 L556.5 802.2 L557.5 802.0 L558.5 802.2 L559.5 802.2 L560.5 802.0 L561.5 801.8 L562.5 801.9 L563.5 801.9 L564.5 802.2 L565.5 802.6 L566.5 802.4 L567.5 801.9 L568.5 801.9 L569.5 801.9 L570.5 801.8 L571.5 801.7 L572.5 802.0 L573.5 802.5 L574.5 802.3 L575.5 801.6 L576.5 801.2 L577.5 801.5 L578.5 802.1 L579.5 802.4 L580.5 802.5 L581.5 802.3 L582.5 802.0 L583.5 801.8 L584.5 801.5 L585.5 801.3 L586.5 801.7 L587.5 802.0 L588.5 801.6 L589.5 801.6 L590.5 801.9 L591.5 802.0 L592.5 802.1 L593.5 802.3 L594.5 802.4 L595.5 802.1 L596.5 801.6 L597.5 801.5 L598.5 801.8 L599.5 802.2 L600.5 802.3 L601.5 802.3 L602.5 802.0 L603.5 802.0 L604.5 802.2 L605.5 802.2 L606.5 802.3 L607.5 802.4 L608.5 802.4 L609.5 802.5 L610.5 802.7 L611.5 802.7 L612.5 802.7 L613.5 802.6 L614.5 802.7 L615.5 802.6 L616.5 802.1 L617.5 801.9 L618.5 801.8 L619.5 801.7 L620.5 801.7 L621.5 802.0 L622.5 802.5 L623.5 802.6 L624.5 802.2 L625.5 802.0 L626.5 802.2 L627.5 802.2 L628.5 802.0 L629.5 801.9 L630.5 802.1 L631.5 802.2 L632.5 802.1 L633.5 802.2 L634.5 802.3 L635.5 802.2 L636.5 802.2 L637.5 802.2 L638.5 802.2 L639.5 802.1 L640.5 802.0 L641.5 802.3 L642.5 802.3 L643.5 801.8 L644.5 801.6 L645.5 802.1 L646.5 802.0 L647.5 801.7 L648.5 802.0 L649.5 802.3 L650.5 801.8 L651.5 801.5 L652.5 801.7 L653.5 801.9 L654.5 801.8 L655.5 801.8 L656.5 801.7 L657.5 801.5 L658.5 801.7 L659.5 802.0 L660.5 801.7 L661.5 801.5 L662.5 801.5 L663.5 801.6 L664.5 801.9 L665.5 801.9 L666.5 802.0 L667.5 802.0 L668.5 801.8 L669.5 801.6 L670.5 801.6 L671.5 801.7 L672.5 801.8 L673.5 801.5 L674.5 801.3 L675.5 801.6 L676.5 801.9 L677.5 802.1 L678.5 802.5 L679.5 802.6 L680.5 802.5 L681.5 802.3 L682.5 801.8 L683.5 801.6 L684.5 801.9 L685.5 802.1 L686.5 801.8 L687.5 801.6 L688.5 801.8 L689.5 802.2 L690.5 802.2 L691.5 801.9 L692.5 802.4 L693.5 802.6 L694.5 802.4 L695.5 802.2 L696.5 802.2 L697.5 802.0 L698.5 801.6 L699.5 801.6 L700.5 801.8 L701.5 802.2 L702.5 802.4 L703.5 802.2 L704.5 802.1 L705.5 802.3 L706.5 802.1 L707.5 801.7 L708.5 802.0 L709.5 802.0 L710.5 801.9 L711.5 802.1 L712.5 802.4 L713.5 802.3 L714.5 802.4 L715.5 802.7 L716.5 802.5 L717.5 802.0 L718.5 802.1 L719.5 802.0 L720.5 801.9 L721.5 802.3 L722.5 802.6 L723.5 802.3 L724.5 802.4 L725.5 802.3 L726.5 801.7 L727.5 801.3 L728.5 801.6 L729.5 802.2 L730.5 802.2 L731.5 801.8 L732.5 801.7 L733.5 801.7 L734.5 801.4 L735.5 801.5 L736.5 801.8 L737.5 802.1 L738.5 802.3 L739.5 802.2 L740.5 801.9 L741.5 801.9 L742.5 802.2 L743.5 802.5 L744.5 802.6 L745.5 802.4 L746.5 802.1 L747.5 801.7 L748.5 801.5 L749.5 801.9 L750.5 802.4 L751.5 802.2 L752.5 801.7 L753.5 801.6 L754.5 801.5 L755.5 801.3 L756.5 801.4 L757.5 801.8 L758.5 801.7 L759.5 801.4 L760.5 801.3 L761.5 801.4 L762.5 801.8 L763.5 802.0 L764.5 802.4 L765.5 802.5 L766.5 802.2 L767.5 801.8 L768.5 801.8 L769.5 802.0 L770.5 801.8 L771.5 802.0 L772.5 802.2 L773.5 801.9 L774.5 801.6 L775.5 801.5 L776.5 801.5 L777.5 801.5 L778.5 801.6 L779.5 801.3 L780.5 801.2 L781.5 801.6 L782.5 801.8 L783.5 801.5 L784.5 801.6 L785.5 801.9 L786.5 801.9 L787.5 801.6 L788.5 801.6 L789.5 801.4 L790.5 801.2 L791.5 801.3 L792.5 801.1 L793.5 801.2 L794.5 801.5 L795.5 801.8 L796.5 801.6 L797.5 801.1 L798.5 801.0 L799.5 801.4 L800.5 801.8 L801.5 801.8 L802.5 801.6 L803.5 801.8 L804.5 801.7 L805.5 801.2 L806.5 800.7 L807.5 800.8 L808.5 801.4 L809.5 801.7 L810.5 801.5 L811.5 801.2 L812.5 801.2 L813.5 801.1 L814.5 800.7 L815.5 800.7 L816.5 801.1 L817.5 801.5 L818.5 801.5 L819.5 801.1 L820.5 800.7 L821.5 800.7 L822.5 801.1 L823.5 801.5 L824.5 801.5 L825.5 801.2 L826.5 800.9 L827.5 800.8 L828.5 800.9 L829.5 800.8 L830.5 801.0 L831.5 801.0 L832.5 800.7 L833.5 800.6 L834.5 800.6 L835.5 800.1 L836.5 799.6 L837.5 799.7 L838.5 800.0 L839.5 800.3 L840.5 800.3 L841.5 799.9 L842.5 799.6 L843.5 799.8 L844.5 799.7 L845.5 799.7 L846.5 799.7 L847.5 799.6 L848.5 799.2 L849.5 798.7 L850.5 798.7 L851.5 798.8 L852.5 799.0 L853.5 799.1 L854.5 799.1 L855.5 799.0 L856.5 798.8 L857.5 798.6 L858.5 798.4 L859.5 798.1 L860.5 798.2 L861.5 798.1 L862.5 798.0 L863.5 797.9 L864.5 797.9 L865.5 798.2 L866.5 798.2 L867.5 797.5 L868.5 797.1 L869.5 797.2 L870.5 797.3 L871.5 797.2 L872.5 797.2 L873.5 797.5 L874.5 797.8 L875.5 797.8 L876.5 797.4 L877.5 797.3 L878.5 797.8 L879.5 798.1 L880.5 797.7 L881.5 797.5 L882.5 797.7 L883.5 798.0 L884.5 798.4 L885.5 798.8 L886.5 798.8 L887.5 798.8 L888.5 799.1 L889.5 799.5 L890.5 799.7 L891.5 799.8 L892.5 799.8 L893.5 799.9 L894.5 800.0 L895.5 800.2 L896.5 800.6 L897.5 800.9 L898.5 801.1 L899.5 801.0 L900.5 800.7 L901.5 800.9 L902.5 801.5 L903.5 801.7 L904.5 801.4 L905.5 801.2 L906.5 801.0 L907.5 801.1 L908.5 801.3 L909.5 801.2 L910.5 801.1 L911.5 801.4 L912.5 801.6 L913.5 801.7 L914.5 802.0 L915.5 802.2 L916.5 802.2 L917.5 802.1 L918.5 801.8 L919.5 801.9 L920.5 802.3 L921.5 802.3 L922.5 802.1 L923.5 801.9 L924.5 801.7 L925.5 801.8 L926.5 802.1 L927.5 802.0 L928.5 801.8 L929.5 801.6 L930.5 801.5 L931.5 801.6 L932.5 801.8 L933.5 801.8 L934.5 802.2 L935.5 802.7 L936.5 802.7 L937.5 802.1 L938.5 801.7 L939.5 802.0 L940.5 802.7 L941.5 802.9 L942.5 802.7 L943.5 802.6 L944.5 802.5 L945.5 802.3 L946.5 802.4 L947.5 802.5 L948.5 802.7 L949.5 802.9 L950.5 802.7 L951.5 802.6 L952.5 802.9 L953.5 803.1 L954.5 803.0 L955.5 802.6 L956.5 802.4 L957.5 802.5 L958.5 802.6 L959.5 802.8 L960.5 802.9 L961.5 802.6 L962.5 802.4 L963.5 802.3 L964.5 802.4 L965.5 802.8 L966.5 803.5 L967.5 803.7 L968.5 803.4 L969.5 803.2 L970.5 803.2 L971.5 803.2 L972.5 803.2 L973.5 803.1 L974.5 802.9 L975.5 803.4 L976.5 803.5 L977.5 803.3 L978.5 803.4 L979.5 803.2 L980.5 802.9 L981.5 802.7 L982.5 802.6 L983.5 802.9 L984.5 803.3 L985.5 803.3 L986.5 803.1 L987.5 803.3 L988.5 803.3 L989.5 803.4 L990.5 803.8 L991.5 803.9 L992.5 803.5 L993.5 803.5 L994.5 803.7 L995.5 803.7 L996.5 803.9 L997.5 803.7 L998.5 803.7 L999.5 804.1 L1000.5 804.3 L1001.5 804.1 L1002.5 803.7 L1003.5 803.4 L1004.5 803.2 L1005.5 803.6 L1006.5 804.4 L1007.5 804.5 L1008.5 804.1 L1009.5 804.0 L1010.5 804.2 L1011.5 804.2 L1012.5 803.8 L1013.5 803.5 L1014.5 803.4 L1015.5 803.5 L1016.5 803.9 L1017.5 804.0 L1018.5 803.5 L1019.5 803.6 L1020.5 803.9 L1021.5 803.9 L1022.5 803.8 L1023.5 803.9 L1024.5 804.2 L1025.5 804.3 L1026.5 804.2 L1027.5 804.3 L1028.5 804.4 L1029.5 804.2 L1030.5 803.8 L1031.5 803.5 L1032.5 803.7 L1033.5 804.1 L1034.5 804.0 L1035.5 803.6 L1036.5 803.4 L1037.5 803.3 L1038.5 803.5 L1039.5 803.9 L1040.5 804.1 L1041.5 804.0 L1042.5 803.8 L1043.5 803.9 L1044.5 804.1 L1045.5 804.2 L1046.5 804.5 L1047.5 804.4 L1048.5 804.4 L1049.5 804.6 L1050.5 804.6 L1051.5 804.7 L1052.5 804.7 L1053.5 804.5 L1054.5 804.3 L1055.5 804.2 L1056.5 804.2 L1057.5 804.2 L1058.5 804.2 L1059.5 804.0 L1060.5 803.7 L1061.5 804.0 L1062.5 804.5 L1063.5 804.7 L1064.5 804.4 L1065.5 804.2 L1066.5 804.0 L1067.5 804.1 L1068.5 804.5 L1069.5 804.6 L1070.5 804.4 L1071.5 804.8 L1072.5 804.7 L1073.5 804.2 L1074.5 804.2 L1075.5 804.0 L1076.5 803.7 L1077.5 803.7 L1078.5 804.0 L1079.5 804.2 L1080.5 804.0 L1081.5 803.9 L1082.5 804.2 L1083.5 804.1 L1084.5 804.1 L1085.5 804.6 L1086.5 804.8 L1087.5 804.7 L1088.5 804.4 L1089.5 804.3 L1090.5 804.6 L1091.5 804.9 L1092.5 804.9 L1093.5 804.6 L1094.5 804.4 L1095.5 804.8 L1096.5 805.1 L1097.5 805.2 L1098.5 805.2 L1099.5 805.0 L1100.5 804.9 L1101.5 804.3 L1102.5 803.9 L1103.5 804.0 L1104.5 804.3 L1105.5 804.6 L1106.5 804.6 L1107.5 804.8 L1108.5 805.0 L1109.5 805.0 L1110.5 805.1 L1111.5 805.0 L1112.5 804.6 L1113.5 804.3 L1114.5 804.5 L1115.5 804.5 L1116.5 804.2 L1117.5 804.4 L1118.5 804.8 L1119.5 804.8 L1120.5 804.7 L1121.5 804.4 L1122.5 803.9 L1123.5 804.2 L1124.5 805.0 L1125.5 804.9 L1126.5 804.3 L1127.5 804.0 L1128.5 804.0 L1129.5 804.2 L1130.5 804.6 L1131.5 804.8 L1132.5 804.5 L1133.5 804.5 L1134.5 804.5 L1135.5 804.5 L1136.5 804.6 L1137.5 804.2 L1138.5 804.3 L1139.5 804.4 L1140.5 804.2 L1141.5 804.1 L1142.5 804.3 L1143.5 804.6 L1144.5 804.9 L1145.5 804.7 L1146.5 804.7 L1147.5 804.9 L1148.5 804.8 L1149.5 804.8 L1150.5 805.1 L1151.5 805.1 L1152.5 805.0 L1153.5 804.7 L1154.5 804.4 L1155.5 804.9 L1156.5 805.3 L1157.5 804.9 L1158.5 804.3 L1159.5 804.2 L1160.5 804.5 L1161.5 805.0 L1162.5 805.4 L1163.5 805.0 L1164.5 804.5 L1165.5 804.6 L1166.5 804.8 L1167.5 805.1 L1168.5 805.3 L1169.5 805.0 L1170.5 804.7 L1171.5 804.7 L1172.5 804.4 L1173.5 804.6 L1174.5 805.0 L1175.5 804.8 L1176.5 804.8 L1177.5 804.9 L1178.5 804.5 L1179.5 804.3 L1180.5 804.7 L1181.5 804.8 L1182.5 804.8 L1183.5 804.7 L1184.5 804.9 L1185.5 805.4 L1186.5 805.4 L1187.5 804.9 L1188.5 804.7 L1189.5 804.7 L1190.5 804.8 L1191.5 804.9 L1192.5 805.2 L1193.5 805.5 L1194.5 805.4 L1195.5 804.9 L1196.5 804.5 L1197.5 804.4 L1198.5 804.6 L1199.5 805.1 L1200.5 805.3 L1201.5 805.1 L1202.5 804.9 L1203.5 804.4 L1204.5 804.3 L1205.5 804.4 L1206.5 804.6 L1207.5 805.2 L1208.5 805.2 L1209.5 804.9 L1210.5 805.0 L1211.5 805.6 L1212.5 805.7 L1213.5 805.4 L1214.5 805.2 L1215.5 805.2 L1216.5 805.2 L1217.5 805.5 L1218.5 805.5 L1219.5 805.3 L1220.5 805.5 L1221.5 805.6 L1222.5 805.5 L1223.5 805.7 L1224.5 805.6 L1225.5 805.1 L1226.5 805.0 L1227.5 805.1 L1228.5 805.0 L1229.5 804.8 L1230.5 805.0 L1231.5 805.2 L1232.5 804.9 L1233.5 804.7 L1234.5 805.0 L1235.5 805.3 L1236.5 805.4 L1237.5 805.2 L1238.5 805.2 L1239.5 805.2 L1240.5 805.5 L1241.5 805.9 L1242.5 805.8 L1243.5 805.7 L1244.5 805.4 L1245.5 805.3 L1246.5 805.3 L1247.5 805.0 L1248.5 804.6 L1249.5 804.8 L1250.5 805.6 L1251.5 805.9 L1252.5 805.5 L1253.5 805.4 L1254.5 805.9 L1255.5 806.0 L1256.5 805.3 L1257.5 804.8 L1258.5 804.9 L1259.5 805.5 L1260.5 805.5 L1261.5 805.2 L1262.5 805.4 L1263.5 805.9 L1264.5 806.1 L1265.5 806.1 L1266.5 805.8 L1267.5 805.4 L1268.5 805.3 L1269.5 805.9 L1270.5 806.1 L1271.5 805.7 L1272.5 805.7 L1273.5 806.1 L1274.5 805.9 L1275.5 805.3 L1276.5 805.6 L1277.5 806.1 L1278.5 806.0 L1279.5 805.8 L1280.5 806.0 L1281.5 805.9 L1282.5 805.3 L1283.5 805.1 L1284.5 805.5 L1285.5 806.0 L1286.5 805.9 L1287.5 805.7 L1288.5 805.8 L1289.5 805.7 L1290.5 805.9 L1291.5 806.0 L1292.5 805.7 L1293.5 805.7 L1294.5 806.0 L1295.5 805.8 L1296.5 805.4 L1297.5 805.4 L1298.5 805.4 L1299.5 805.5 L1300.5 805.4 L1301.5 805.0 L1302.5 805.2 L1303.5 805.9 L1304.5 805.9 L1305.5 805.8 L1306.5 806.2 L1307.5 806.4 L1308.5 806.3 L1309.5 805.8 L1310.5 805.4 L1311.5 805.7 L1312.5 805.8 L1313.5 805.6 L1314.5 805.4 L1315.5 805.6 L1316.5 806.2 L1317.5 806.0 L1318.5 805.5 L1319.5 805.5 L1320.5 805.5 L1321.5 805.4 L1322.5 805.7 L1323.5 805.9 L1324.5 805.5 L1325.5 805.4 L1326.5 805.4 L1327.5 805.6 L1328.5 805.9 L1329.5 805.7 L1330.5 805.9 L1331.5 806.1 L1332.5 805.8 L1333.5 805.7 L1334.5 806.2 L1335.5 806.3 L1336.5 805.8 L1337.5 805.4 L1338.5 805.4 L1339.5 805.4 L1340.5 805.5 L1341.5 805.8 L1342.5 806.4 L1343.5 806.8 L1344.5 806.5 L1345.5 806.3 L1346.5 806.4 L1347.5 806.3 L1348.5 805.8 L1349.5 805.7 L1350.5 805.8 L1351.5 805.8 L1352.5 805.6 L1353.5 805.8 L1354.5 806.4 L1355.5 806.5 L1356.5 806.2 L1357.5 806.4 L1358.5 806.5 L1359.5 806.5 L1360.5 806.7 L1361.5 806.8 L1362.5 806.7 L1363.5 806.5 L1364.5 806.2 L1365.5 806.1 L1366.5 806.2 L1367.5 806.1 L1368.5 806.1 L1369.5 806.3 L1370.5 806.5 L1371.5 806.7 L1372.5 806.5 L1373.5 806.2 L1374.5 805.8 L1375.5 805.7 L1376.5 805.8 L1377.5 806.0 L1378.5 806.3 L1379.5 806.5 L1380.5 806.7 L1381.5 806.6 L1382.5 806.5 L1383.5 806.6 L1384.5 806.9 L1385.5 806.7 L1386.5 806.3 L1387.5 806.4 L1388.5 806.2 L1389.5 806.0 L1390.5 806.5 L1391.5 806.6 L1392.5 806.2 L1393.5 805.9 L1394.5 806.0 L1395.5 806.2 L1396.5 806.3 L1397.5 806.4 L1398.5 806.3 L1399.5 805.9 L1400.5 806.2 L1401.5 807.0 L1402.5 807.0 L1403.5 806.8 L1404.5 806.5 L1405.5 806.3 L1406.5 806.7 L1407.5 807.0 L1408.5 806.9 L1409.5 806.6 L1410.5 806.4 L1411.5 806.6 L1412.5 806.7 L1413.5 806.4 L1414.5 806.5 L1415.5 806.6 L1416.5 806.5 L1417.5 806.3 L1418.5 806.1 L1419.5 806.1 L1420.5 806.0 L1421.5 806.1 L1422.5 806.2 L1423.5 806.3 L1424.5 806.8 L1425.5 806.9 L1426.5 806.2 L1427.5 806.0 L1428.5 806.6 L1429.5 807.1 L1430.5 807.0 L1431.5 806.5 L1432.5 806.7 L1433.5 806.9 L1434.5 806.7 L1435.5 806.6 L1436.5 806.6 L1437.5 807.0 L1438.5 806.9 L1439.5 806.5 L1440.5 806.7 L1441.5 806.8 L1442.5 806.5 L1443.5 806.6 L1444.5 806.8 L1445.5 806.3 L1446.5 806.4 L1447.5 807.1 L1448.5 807.5 L1449.5 807.3 L1450.5 806.9 L1451.5 806.5 L1452.5 806.6 L1453.5 807.2 L1454.5 807.1 L1455.5 806.4 L1456.5 806.4 L1457.5 806.9 L1458.5 806.9 L1459.5 806.6 L1460.5 806.7 L1461.5 807.2 L1462.5 807.4 L1463.5 807.2 L1464.5 807.1 L1465.5 806.8 L1466.5 806.4 L1467.5 806.7 L1468.5 807.2 L1469.5 806.9 L1470.5 806.8 L1471.5 807.2 L1472.5 807.3 L1473.5 806.9 L1474.5 806.9 L1475.5 807.0 L1476.5 807.1 L1477.5 806.9 L1478.5 806.5 L1479.5 806.6 L1480.5 807.2 L1481.5 807.1 L1482.5 806.9 L1483.5 807.0 L1484.5 807.1 L1485.5 806.8 L1486.5 806.7 L1487.5 807.0 L1488.5 806.9 L1489.5 806.4 L1490.5 806.4 L1491.5 807.1 L1492.5 807.5 L1493.5 807.5 L1494.5 807.2 L1495.5 807.0 L1496.5 806.8 L1497.5 806.4 L1498.5 806.2 L1499.5 806.6 L1500.5 807.0 L1501.5 806.8 L1502.5 806.8 L1503.5 807.3 L1504.5 807.3 L1505.5 807.1 L1506.5 807.3 L1507.5 806.9 L1508.5 806.3 L1509.5 806.3 L1510.5 806.9 L1511.5 807.3 L1512.5 807.2 L1513.5 806.8 L1514.5 806.6 L1515.5 806.9 L1516.5 806.9 L1517.5 806.5 L1518.5 806.6 L1519.5 806.9 L1520.5 806.5 L1521.5 806.4 L1522.5 806.9 L1523.5 807.2 L1524.5 807.4 L1525.5 807.1 L1526.5 806.4 L1527.5 806.5 L1528.5 807.1 L1529.5 807.3 L1530.5 807.2 L1531.5 807.2 L1532.5 806.8 L1533.5 806.6 L1534.5 806.7 L1535.5 806.9 L1536.5 807.1 L1537.5 807.4 L1538.5 807.4 L1539.5 806.9 L1540.5 806.8 L1541.5 806.9 L1542.5 806.6 L1543.5 806.9 L1544.5 807.3 L1545.5 807.1 L1546.5 806.7 L1547.5 806.6 L1548.5 806.8 L1549.5 807.0 L1550.5 806.9 L1551.5 807.0 L1552.5 807.2 L1553.5 807.0 L1554.5 806.7 L1555.5 806.5 L1556.5 806.4 L1557.5 806.5 L1558.5 806.8 L1559.5 807.1 L1560.5 806.9 L1561.5 806.8 L1562.5 807.2 L1563.5 807.7 L1564.5 807.7 L1565.5 807.2 L1566.5 806.8 L1567.5 806.8 L1568.5 806.9 L1569.5 806.9 L1570.5 806.8 L1571.5 806.9 L1572.5 807.4 L1573.5 807.6 L1574.5 807.1 L1575.5 806.6 L1576.5 806.8 L1577.5 807.3 L1578.5 807.5 L1579.5 807.4 L1580.5 807.5 L1581.5 807.8 L1582.5 807.6 L1583.5 807.1 L1584.5 806.9 L1585.5 806.8 L1586.5 807.0 L1587.5 807.4 L1588.5 807.6 L1589.5 807.5 L1590.5 807.1 L1591.5 807.2 L1592.5 807.4 L1593.5 806.9 L1594.5 806.5 L1595.5 806.6 L1596.5 807.0 L1597.5 807.2 L1598.5 807.0 L1599.5 806.9 L1600.5 807.2 L1601.5 807.7 L1602.5 807.6 L1603.5 807.2 L1604.5 807.2 L1605.5 807.3 L1606.5 807.1 L1607.5 806.9 L1608.5 807.2 L1609.5 807.6 L1610.5 807.8 L1611.5 807.5 L1612.5 807.0 L1613.5 807.2 L1614.5 807.4 L1615.5 807.3 L1616.5 807.5 L1617.5 807.8 L1618.5 807.6 L1619.5 807.4 L1620.5 807.8 L1621.5 807.7 L1622.5 807.1 L1623.5 807.3 L1624.5 807.7 L1625.5 807.5 L1626.5 807.2 L1627.5 807.2 L1628.5 807.3 L1629.5 807.6 L1630.5 807.4 L1631.5 806.9 L1632.5 806.7 L1633.5 806.9 L1634.5 807.4 L1635.5 807.9 L1636.5 808.0 L1637.5 807.4 L1638.5 807.2 L1639.5 807.5 L1640.5 807.2 L1641.5 806.9 L1642.5 807.1 L1643.5 807.2 L1644.5 807.1 L1645.5 807.1 L1646.5 807.2 L1647.5 807.3 L1648.5 807.4 L1649.5 807.5 L1650.5 807.2 L1651.5 807.0 L1652.5 807.2 L1653.5 807.3 L1654.5 807.7 L1655.5 808.0 L1656.5 807.8 L1657.5 807.5 L1658.5 807.6 L1659.5 807.9 L1660.5 807.6 L1661.5 806.9 L1662.5 806.9 L1663.5 807.3 L1664.5 807.5 L1665.5 807.4 L1666.5 807.1 L1667.5 807.3 L1668.5 807.5 L1669.5 807.1 L1670.5 806.9 L1671.5 807.1 L1672.5 807.2 L1673.5 807.2 L1674.5 806.9 L1675.5 807.0 L1676.5 807.3 L1677.5 807.4 L1678.5 807.7 L1679.5 807.7 L1680.5 807.7 L1681.5 808.1 L1682.5 808.3 L1683.5 808.0 L1684.5 807.3 L1685.5 807.0 L1686.5 807.1 L1687.5 807.2 L1688.5 807.8 L1689.5 808.0 L1690.5 807.8 L1691.5 807.6 L1692.5 807.4 L1693.5 807.5 L1694.5 807.7 L1695.5 807.8 L1696.5 807.6 L1697.5 807.6 L1698.5 807.4 L1699.5 807.3 L1700.5 807.8 L1701.5 808.1 L1702.5 807.9 L1703.5 807.3 L1704.5 807.1 L1705.5 807.3 L1706.5 807.3 L1707.5 807.1 L1708.5 807.6 L1709.5 808.0 L1710.5 807.6 L1711.5 807.0 L1712.5 806.7 L1713.5 807.0 L1714.5 807.5 L1715.5 807.5 L1716.5 807.5 L1717.5 807.7 L1718.5 807.9 L1719.5 807.9 L1720.5 807.4 L1721.5 807.2 L1722.5 807.7 L1723.5 807.8 L1724.5 807.4 L1725.5 807.4 L1726.5 807.6 L1727.5 807.9 L1728.5 808.0 L1729.5 807.5 L1730.5 807.3 L1731.5 807.3 L1732.5 807.0 L1733.5 807.0 L1734.5 807.1 L1735.5 805.8 L1736.5 805.9 L1737.5 806.0 L1738.5 805.6 L1739.5 805.4 L1740.5 805.3 L1741.5 804.9 L1742.5 804.9 L1743.5 805.6 L1744.5 806.1 L1745.5 806.0 L1746.5 805.5 L1747.5 805.5 L1748.5 805.7 L1749.5 805.8 L1750.5 805.6 L1751.5 805.2 L1752.5 805.2 L1753.5 805.2 L1754.5 805.2 L1755.5 805.0 L1756.5 805.1 L1757.5 805.9 L1758.5 806.4 L1759.5 806.2 L1760.5 805.5 L1761.5 805.0 L1762.5 805.2 L1763.5 805.3 L1764.5 805.1 L1765.5 805.4 L1766.5 805.9 L1767.5 805.8 L1768.5 805.5 L1769.5 805.4 L1770.5 805.4 L1771.5 805.3 L1772.5 805.1 L1773.5 805.1 L1774.5 805.5 L1775.5 805.7 L1776.5 805.2 L1777.5 804.9 L1778.5 805.0 L1779.5 805.0 L1780.5 805.0 L1781.5 805.3 L1782.5 805.6 L1783.5 805.8 L1784.5 805.9 L1785.5 805.5 L1786.5 805.1 L1787.5 805.1 L1788.5 805.0 L1789.5 804.8 L1790.5 805.0 L1791.5 805.4 L1792.5 805.4 L1793.5 805.5 L1794.5 805.6 L1795.5 805.6 L1796.5 805.4 L1797.5 805.6 L1798.5 805.8 L1799.5 805.9 L1800.5 805.7 L1801.5 805.1 L1802.5 805.1 L1803.5 805.8 L1804.5 805.9 L1805.5 805.4 L1806.5 805.2 L1807.5 805.0 L1808.5 804.7 L1809.5 804.7 L1810.5 805.2 L1811.5 805.6 L1812.5 805.3 L1813.5 805.4 L1814.5 805.9 L1815.5 806.0 L1816.5 805.6 L1817.5 805.1 L1818.5 805.2 L1819.5 805.4 L1820.5 805.4 L1821.5 805.6 L1822.5 805.9 L1823.5 805.5 L1824.5 805.3 L1825.5 805.6 L1826.5 805.3 L1827.5 805.0 L1828.5 804.8 L1829.5 805.1 L1830.5 805.9 L1831.5 806.2 L1832.5 806.1 L1833.5 805.9 L1834.5 805.5 L1835.5 805.4 L1836.5 805.7 L1837.5 806.0 L1838.5 805.8 L1839.5 805.2 L1840.5 805.0 L1841.5 805.1 L1842.5 805.3 L1843.5 805.7 L1844.5 805.6 L1845.5 805.2 L1846.5 805.3 L1847.5 805.9 L1848.5 805.8 L1849.5 805.1 L1850.5 805.2 L1851.5 805.4 L1852.5 805.2 L1853.5 804.8 L1854.5 805.2 L1855.5 805.7 L1856.5 805.4 L1857.5 805.4 L1858.5 805.7 L1859.5 805.3 L1860.5 805.0 L1861.5 804.9 L1862.5 805.0 L1863.5 805.1 L1864.5 805.1 L1865.5 805.0 L1866.5 805.2 L1867.5 805.4 L1868.5 805.4 L1869.5 805.8 L1870.5 805.9 L1871.5 805.7 L1872.5 805.7 L1873.5 805.8 L1874.5 805.7 L1875.5 805.6 L1876.5 805.9 L1877.5 805.8 L1878.5 805.4 L1879.5 806.2 L1880.5 809.0 L1881.5 809.5 L1882.5 809.3 L1883.5 809.3 L1884.5 809.2 L1885.5 809.0 L1886.5 809.1 L1887.5 809.4 L1888.5 809.7 L1889.5 809.9 L1890.5 809.8 L1891.5 809.5 L1892.5 809.5 L1893.5 809.7 L1894.5 809.4 L1895.5 809.1 L1896.5 809.3 L1897.5 809.7 L1898.5 809.9 L1899.5 809.5 L1900.5 809.3 L1901.5 809.4 L1902.5 809.6 L1903.5 809.9 L1904.5 810.0 L1905.5 809.7 L1906.5 809.6 L1907.5 809.5 L1908.5 809.4 L1909.5 809.5 L1910.5 809.3 L1911.5 809.2 L1912.5 809.0 L1913.5 809.1 L1914.5 809.4 L1915.5 809.5 L1916.5 809.5 L1917.5 809.2 L1918.5 808.9 L1919.5 809.2 L1920.5 809.7 L1921.5 809.8 L1922.5 809.9 L1923.5 809.8 L1924.5 809.5 L1925.5 809.7 L1926.5 809.5 L1927.5 809.0 L1928.5 809.0 L1929.5 809.0 L1930.5 809.2 L1931.5 809.7 L1932.5 809.9 L1933.5 809.3 L1934.5 809.0 L1935.5 809.3 L1936.5 809.3 L1937.5 809.3 L1938.5 809.4 L1939.5 809.3 L1940.5 809.1 L1941.5 809.5 L1942.5 809.8 L1943.5 809.8 L1944.5 809.5 L1945.5 809.4 L1946.5 809.6 L1947.5 809.4 L1948.5 809.3 L1949.5 809.7 L1950.5 810.0 L1951.5 809.7 L1952.5 809.3"/>
<path stroke="#0000ff" d="M202.5 661.3 L203.5 661.1 L204.5 661.8 L205.5 661.9 L206.5 661.2 L207.5 661.2 L208.5 662.0 L209.5 661.5 L210.5 660.8 L211.5 660.7 L212.5 660.5 L213.5 660.8 L214.5 661.4 L215.5 661.0 L216.5 660.0 L217.5 660.0 L218.5 660.3 L219.5 660.0 L220.5 659.9 L221.5 659.7 L222.5 659.3 L223.5 659.4 L224.5 660.1 L225.5 659.9 L226.5 659.2 L227.5 659.2 L228.5 659.0 L229.5 658.8 L230.5 658.7 L231.5 658.2 L232.5 657.9 L233.5 657.7 L234.5 657.5 L235.5 657.6 L236.5 657.7 L237.5 657.3 L238.5 656.5 L239.5 656.1 L240.5 656.2 L241.5 656.0 L242.5 655.3 L243.5 654.6 L244.5 654.4 L245.5 654.2 L246.5 654.0 L247.5 653.7 L248.5 653.8 L249.5 654.0 L250.5 654.0 L251.5 653.9 L252.5 653.7 L253.5 653.9 L254.5 653.9 L255.5 653.6 L256.5 653.2 L257.5 652.7 L258.5 653.0 L259.5 654.1 L260.5 654.0 L261.5 653.0 L262.5 653.1 L263.5 654.0 L264.5 654.0 L265.5 653.4 L266.5 653.6 L267.5 654.2 L268.5 654.5 L269.5 654.7 L270.5 654.8 L271.5 655.2 L272.5 655.7 L273.5 656.2 L274.5 656.9 L275.5 657.2 L276.5 657.3 L277.5 657.7 L278.5 657.9 L279.5 657.9 L280.5 658.0 L281.5 658.4 L282.5 658.6 L283.5 659.2 L284.5 659.7 L285.5 659.4 L286.5 659.7 L287.5 660.2 L288.5 660.4 L289.5 660.7 L290.5 660.6 L291.5 660.7 L292.5 661.0 L293.5 661.1 L294.5 661.5 L295.5 661.9 L296.5 661.7 L297.5 661.4 L298.5 661.4 L299.5 661.3 L300.5 661.2 L301.5 661.2 L302.5 661.0 L303.5 660.4 L304.5 659.9 L305.5 659.7 L306.5 659.8 L307.5 660.1 L308.5 660.3 L309.5 660.0 L310.5 660.4 L311.5 661.5 L312.5 661.5 L313.5 660.8 L314.5 660.3 L315.5 659.9 L316.5 659.6 L317.5 659.7 L318.5 660.5 L319.5 661.1 L320.5 661.1 L321.5 661.3 L322.5 661.8 L323.5 661.9 L324.5 661.3 L325.5 660.8 L326.5 660.8 L327.5 660.8 L328.5 660.9 L329.5 661.0 L330.5 661.0 L331.5 661.3 L332.5 660.8 L333.5 660.8 L334.5 661.6 L335.5 661.4 L336.5 661.1 L337.5 661.6 L338.5 661.5 L339.5 660.8 L340.5 660.9 L341.5 661.2 L342.5 660.8 L343.5 660.8 L344.5 660.8 L345.5 660.8 L346.5 660.9 L347.5 661.1 L348.5 661.8 L349.5 661.5 L350.5 660.5 L351.5 660.5 L352.5 661.0 L353.5 661.2 L354.5 661.7 L355.5 662.0 L356.5 661.8 L357.5 661.7 L358.5 661.5 L359.5 661.1 L360.5 661.1 L361.5 661.6 L362.5 662.0 L363.5 662.2 L364.5 661.6 L365.5 660.8 L366.5 661.0 L367.5 661.3 L368.5 660.4 L369.5 660.1 L370.5 660.4 L371.5 660.1 L372.5 660.2 L373.5 661.0 L374.5 661.2 L375.5 660.5 L376.5 659.8 L377.5 659.6 L378.5 660.3 L379.5 661.5 L380.5 661.4 L381.5 660.4 L382.5 660.3 L383.5 661.0 L384.5 661.6 L385.5 661.5 L386.5 661.4 L387.5 661.6 L388.5 661.4 L389.5 661.4 L390.5 661.0 L391.5 660.5 L392.5 661.0 L393.5 661.7 L394.5 661.5 L395.5 661.2 L396.5 660.5 L397.5 660.5 L398.5 661.1 L399.5 661.0 L400.5 660.8 L401.5 660.8 L402.5 660.7 L403.5 660.2 L404.5 659.9 L405.5 659.9 L406.5 660.3 L407.5 660.7 L408.5 660.9 L409.5 661.4 L410.5 661.3 L411.5 660.5 L412.5 660.0 L413.5 660.1 L414.5 660.5 L415.5 660.3 L416.5 659.9 L417.5 660.4 L418.5 661.0 L419.5 660.6 L420.5 660.9 L421.5 661.7 L422.5 662.0 L423.5 662.1 L424.5 661.8 L425.5 661.2 L426.5 661.1 L427.5 660.6 L428.5 660.4 L429.5 661.3 L430.5 661.3 L431.5 660.8 L432.5 660.9 L433.5 660.4 L434.5 659.8 L435.5 659.6 L436.5 660.0 L437.5 660.6 L438.5 660.8 L439.5 661.6 L440.5 661.7 L441.5 660.5 L442.5 660.1 L443.5 660.0 L444.5 660.3 L445.5 661.2 L446.5 661.5 L447.5 660.6 L448.5 660.0 L449.5 660.4 L450.5 661.3 L451.5 661.4 L452.5 660.8 L453.5 660.5 L454.5 660.7 L455.5 660.6 L456.5 660.8 L457.5 661.2 L458.5 660.9 L459.5 661.0 L460.5 660.9 L461.5 660.6 L462.5 660.9 L463.5 660.9 L464.5 660.8 L465.5 661.2 L466.5 661.7 L467.5 661.5 L468.5 661.3 L469.5 661.5 L470.5 661.0 L471.5 660.6 L472.5 661.0 L473.5 661.2 L474.5 661.4 L475.5 661.7 L476.5 661.4 L477.5 660.7 L478.5 660.3 L479.5 660.1 L480.5 660.5 L481.5 661.1 L482.5 660.4 L483.5 660.3 L484.5 660.9 L485.5 660.2 L486.5 659.9 L487.5 660.2 L488.5 660.4 L489.5 660.3 L490.5 660.2 L491.5 661.0 L492.5 661.6 L493.5 660.9 L494.5 660.1 L495.5 660.6 L496.5 661.5 L497.5 661.8 L498.5 661.4 L499.5 661.0 L500.5 661.6 L501.5 661.5 L502.5 660.7 L503.5 660.9 L504.5 661.0 L505.5 660.6 L506.5 660.7 L507.5 661.3 L508.5 661.0 L509.5 660.6 L510.5 661.2 L511.5 661.6 L512.5 661.0 L513.5 660.5 L514.5 661.0 L515.5 660.9 L516.5 660.1 L517.5 659.7 L518.5 660.3 L519.5 661.2 L520.5 661.4 L521.5 661.3 L522.5 661.4 L523.5 661.3 L524.5 660.6 L525.5 660.9 L526.5 661.5 L527.5 661.0 L528.5 660.6 L529.5 660.5 L530.5 660.5 L531.5 660.6 L532.5 660.6 L533.5 661.3 L534.5 661.3 L535.5 660.5 L536.5 660.7 L537.5 661.7 L538.5 662.2 L539.5 662.3 L540.5 662.2 L541.5 661.6 L542.5 660.9 L543.5 661.1 L544.5 660.9 L545.5 660.2 L546.5 660.2 L547.5 660.4 L548.5 660.4 L549.5 660.0 L550.5 660.2 L551.5 660.8 L552.5 661.4 L553.5 661.4 L554.5 661.2 L555.5 661.2 L556.5 660.2 L557.5 660.1 L558.5 660.9 L559.5 660.4 L560.5 659.6 L561.5 659.4 L562.5 659.7 L563.5 660.2 L564.5 660.7 L565.5 661.1 L566.5 661.5 L567.5 661.6 L568.5 661.7 L569.5 662.0 L570.5 661.7 L571.5 660.8 L572.5 660.7 L573.5 661.3 L574.5 661.9 L575.5 661.9 L576.5 661.5 L577.5 661.3 L578.5 661.2 L579.5 660.7 L580.5 660.1 L581.5 660.3 L582.5 660.7 L583.5 660.8 L584.5 661.4 L585.5 661.9 L586.5 661.9 L587.5 661.2 L588.5 660.6 L589.5 661.0 L590.5 661.7 L591.5 661.5 L592.5 661.1 L593.5 660.8 L594.5 660.6 L595.5 661.1 L596.5 662.1 L597.5 661.9 L598.5 661.0 L599.5 660.6 L600.5 661.1 L601.5 661.0 L602.5 660.5 L603.5 661.1 L604.5 661.5 L605.5 661.0 L606.5 661.3 L607.5 661.7 L608.5 662.1 L609.5 662.0 L610.5 661.6 L611.5 661.9 L612.5 662.1 L613.5 661.2 L614.5 660.5 L615.5 661.2 L616.5 661.8 L617.5 661.4 L618.5 660.7 L619.5 660.7 L620.5 661.4 L621.5 661.4 L622.5 660.5 L623.5 660.5 L624.5 661.0 L625.5 660.7 L626.5 660.3 L627.5 659.9 L628.5 660.0 L629.5 660.3 L630.5 660.5 L631.5 660.5 L632.5 660.2 L633.5 660.1 L634.5 660.2 L635.5 660.8 L636.5 661.0 L637.5 660.5 L638.5 661.0 L639.5 661.1 L640.5 660.9 L641.5 661.3 L642.5 661.3 L643.5 660.5 L644.5 660.5 L645.5 661.1 L646.5 661.0 L647.5 661.0 L648.5 661.6 L649.5 661.7 L650.5 661.0 L651.5 660.6 L652.5 660.6 L653.5 660.6 L654.5 661.0 L655.5 661.7 L656.5 661.7 L657.5 661.6 L658.5 661.2 L659.5 661.1 L660.5 661.5 L661.5 661.7 L662.5 661.5 L663.5 661.3 L664.5 661.2 L665.5 660.6 L666.5 660.6 L667.5 661.3 L668.5 660.9 L669.5 660.4 L670.5 661.1 L671.5 662.0 L672.5 662.0 L673.5 661.1 L674.5 660.6 L675.5 660.6 L676.5 660.8 L677.5 660.9 L678.5 660.6 L679.5 660.8 L680.5 661.4 L681.5 661.1 L682.5 660.9 L683.5 660.8 L684.5 660.9 L685.5 660.7 L686.5 660.4 L687.5 661.0 L688.5 661.1 L689.5 660.5 L690.5 660.8 L691.5 661.6 L692.5 661.8 L693.5 661.1 L694.5 660.3 L695.5 660.6 L696.5 661.4 L697.5 661.7 L698.5 661.5 L699.5 661.1 L700.5 661.0 L701.5 661.6 L702.5 661.6 L703.5 661.3 L704.5 661.5 L705.5 661.6 L706.5 661.1 L707.5 660.9 L708.5 661.3 L709.5 661.2 L710.5 660.5 L711.5 660.7 L712.5 661.1 L713.5 661.3 L714.5 661.5 L715.5 661.8 L716.5 661.6 L717.5 661.4 L718.5 661.8 L719.5 662.0 L720.5 662.0 L721.5 662.1 L722.5 661.8 L723.5 660.8 L724.5 660.2 L725.5 660.6 L726.5 661.5 L727.5 661.3 L728.5 660.6 L729.5 660.6 L730.5 660.8 L731.5 661.1 L732.5 661.8 L733.5 661.6 L734.5 661.0 L735.5 660.7 L736.5 660.7 L737.5 660.4 L738.5 660.6 L739.5 661.1 L740.5 661.4 L741.5 660.9 L742.5 660.9 L743.5 661.1 L744.5 660.4 L745.5 659.6 L746.5 660.2 L747.5 661.5 L748.5 662.1 L749.5 662.1 L750.5 662.2 L751.5 662.2 L752.5 662.0 L753.5 661.6 L754.5 660.8 L755.5 660.7 L756.5 661.7 L757.5 661.6 L758.5 660.1 L759.5 659.8 L760.5 660.4 L761.5 660.8 L762.5 661.3 L763.5 661.6 L764.5 661.5 L765.5 661.1 L766.5 660.6 L767.5 660.5 L768.5 661.0 L769.5 661.5 L770.5 661.5 L771.5 661.6 L772.5 661.7 L773.5 661.3 L774.5 660.2 L775.5 660.0 L776.5 660.2 L777.5 660.3 L778.5 661.1 L779.5 661.2 L780.5 660.2 L781.5 659.9 L782.5 660.0 L783.5 660.3 L784.5 661.0 L785.5 661.2 L786.5 660.9 L787.5 661.3 L788.5 661.6 L789.5 660.7 L790.5 660.6 L791.5 661.4 L792.5 661.5 L793.5 660.4 L794.5 659.7 L795.5 660.1 L796.5 660.9 L797.5 660.6 L798.5 660.5 L799.5 661.3 L800.5 661.5 L801.5 661.7 L802.5 661.9 L803.5 661.9 L804.5 661.2 L805.5 660.3 L806.5 660.2 L807.5 660.5 L808.5 660.3 L809.5 659.9 L810.5 659.7 L811.5 659.7 L812.5 660.2 L813.5 660.9 L814.5 660.7 L815.5 660.2 L816.5 660.5 L817.5 660.8 L818.5 660.7 L819.5 661.5 L820.5 661.9 L821.5 661.7 L822.5 661.3 L823.5 660.5 L824.5 660.6 L825.5 661.1 L826.5 661.2 L827.5 660.8 L828.5 660.2 L829.5 660.1 L830.5 660.3 L831.5 660.2 L832.5 660.4 L833.5 660.3 L834.5 659.4 L835.5 659.4 L836.5 659.9 L837.5 659.9 L838.5 659.7 L839.5 659.4 L840.5 659.1 L841.5 659.1 L842.5 658.9 L843.5 658.6 L844.5 658.2 L845.5 658.1 L846.5 657.9 L847.5 657.5 L848.5 657.2 L849.5 657.1 L850.5 656.7 L851.5 656.0 L852.5 655.8 L853.5 656.0 L854.5 655.6 L855.5 655.0 L856.5 654.9 L857.5 654.9 L858.5 654.5 L859.5 654.2 L860.5 653.8 L861.5 653.6 L862.5 653.8 L863.5 654.0 L864.5 653.7 L865.5 653.2 L866.5 652.5 L867.5 651.6 L868.5 650.1 L869.5 648.2 L870.5 645.8 L871.5 643.2 L872.5 640.4 L873.5 637.0 L874.5 632.5 L875.5 627.1 L876.5 620.7 L877.5 612.2 L878.5 600.3 L879.5 587.2 L880.5 573.7 L881.5 560.0 L882.5 545.2 L883.5 490.1 L884.5 420.3 L885.5 370.3 L886.5 307.3 L887.5 260.3 L888.5 170.5 L889.5 111.8 L890.5 113.8 L891.5 120.3 L892.5 140.3 L893.5 234.1 L894.5 278.6 L895.5 461.7 L896.5 531.2 L897.5 557.7 L898.5 575.9 L899.5 594.3 L900.5 610.1 L901.5 620.7 L902.5 629.3 L903.5 635.3 L904.5 638.7 L905.5 641.5 L906.5 643.7 L907.5 645.6 L908.5 647.1 L909.5 648.4 L910.5 649.7 L911.5 651.1 L912.5 652.3 L913.5 653.1 L914.5 654.0 L915.5 654.8 L916.5 655.3 L917.5 655.9 L918.5 656.8 L919.5 657.6 L920.5 657.7 L921.5 657.5 L922.5 657.4 L923.5 658.0 L924.5 658.9 L925.5 659.2 L926.5 659.3 L927.5 659.6 L928.5 659.8 L929.5 659.8 L930.5 660.1 L931.5 660.6 L932.5 660.5 L933.5 660.0 L934.5 659.4 L935.5 659.3 L936.5 659.4 L937.5 659.5 L938.5 659.8 L939.5 659.9 L940.5 659.8 L941.5 660.3 L942.5 661.4 L943.5 661.5 L944.5 661.2 L945.5 661.6 L946.5 661.8 L947.5 661.4 L948.5 661.4 L949.5 661.4 L950.5 660.9 L951.5 661.2 L952.5 662.0 L953.5 661.5 L954.5 660.2 L955.5 659.6 L956.5 659.6 L957.5 659.7 L958.5 660.6 L959.5 661.2 L960.5 660.9 L961.5 661.2 L962.5 661.6 L963.5 661.3 L964.5 661.5 L965.5 661.5 L966.5 660.4 L967.5 660.0 L968.5 660.7 L969.5 660.9 L970.5 660.9 L971.5 661.3 L972.5 661.4 L973.5 661.5 L974.5 661.3 L975.5 660.4 L976.5 659.9 L977.5 660.0 L978.5 660.1 L979.5 660.0 L980.5 659.7 L981.5 659.8 L982.5 660.4 L983.5 661.1 L984.5 661.6 L985.5 661.5 L986.5 661.4 L987.5 661.5 L988.5 660.9 L989.5 660.6 L990.5 661.2 L991.5 661.0 L992.5 660.1 L993.5 659.7 L994.5 660.5 L995.5 661.3 L996.5 661.0 L997.5 660.6 L998.5 660.4 L999.5 660.8 L1000.5 661.8 L1001.5 662.0 L1002.5 661.8 L1003.5 661.4 L1004.5 661.0 L1005.5 661.6 L1006.5 661.4 L1007.5 660.0 L1008.5 659.8 L1009.5 660.5 L1010.5 660.7 L1011.5 660.4 L1012.5 660.5 L1013.5 660.8 L1014.5 660.6 L1015.5 660.6 L1016.5 660.6 L1017.5 660.3 L1018.5 660.4 L1019.5 660.7 L1020.5 660.8 L1021.5 661.0 L1022.5 660.7 L1023.5 660.6 L1024.5 661.5 L1025.5 662.3 L1026.5 661.7 L1027.5 660.8 L1028.5 660.6 L1029.5 660.8 L1030.5 660.8 L1031.5 659.9 L1032.5 659.7 L1033.5 660.7 L1034.5 661.6 L1035.5 661.6 L1036.5 661.2 L1037.5 661.4 L1038.5 661.3 L1039.5 661.0 L1040.5 660.9 L1041.5 660.3 L1042.5 659.9 L1043.5 660.3 L1044.5 660.9 L1045.5 661.3 L1046.5 661.4 L1047.5 661.6 L1048.5 661.6 L1049.5 660.7 L1050.5 660.3 L1051.5 660.9 L1052.5 660.6 L1053.5 659.7 L1054.5 659.4 L1055.5 659.6 L1056.5 659.8 L1057.5 659.7 L1058.5 659.4 L1059.5 659.2 L1060.5 659.1 L1061.5 659.2 L1062.5 659.4 L1063.5 659.4 L1064.5 658.9 L1065.5 658.1 L1066.5 657.8 L1067.5 657.8 L1068.5 657.7 L1069.5 657.1 L1070.5 656.2 L1071.5 655.9 L1072.5 655.7 L1073.5 655.0 L1074.5 654.2 L1075.5 653.3 L1076.5 652.2 L1077.5 651.0 L1078.5 649.4 L1079.5 647.6 L1080.5 645.5 L1081.5 642.9 L1082.5 640.2 L1083.5 636.9 L1084.5 632.5 L1085.5 627.2 L1086.5 621.4 L1087.5 615.3 L1088.5 608.6 L1089.5 600.8 L1090.5 591.4 L1091.5 577.2 L1092.5 559.9 L1093.5 547.1 L1094.5 537.0 L1095.5 528.6 L1096.5 520.2 L1097.5 515.4 L1098.5 518.1 L1099.5 524.2 L1100.5 532.7 L1101.5 546.9 L1102.5 561.8 L1103.5 577.7 L1104.5 591.5 L1105.5 602.3 L1106.5 611.7 L1107.5 620.8 L1108.5 630.3 L1109.5 637.9 L1110.5 642.1 L1111.5 644.9 L1112.5 647.1 L1113.5 649.1 L1114.5 650.7 L1115.5 651.9 L1116.5 653.2 L1117.5 654.5 L1118.5 655.8 L1119.5 656.9 L1120.5 657.6 L1121.5 657.8 L1122.5 657.9 L1123.5 658.1 L1124.5 658.6 L1125.5 659.5 L1126.5 659.6 L1127.5 659.1 L1128.5 659.4 L1129.5 659.7 L1130.5 659.5 L1131.5 659.7 L1132.5 660.0 L1133.5 659.8 L1134.5 659.8 L1135.5 660.0 L1136.5 660.3 L1137.5 660.3 L1138.5 659.7 L1139.5 659.9 L1140.5 660.8 L1141.5 661.4 L1142.5 661.4 L1143.5 661.2 L1144.5 661.6 L1145.5 662.0 L1146.5 662.1 L1147.5 662.1 L1148.5 661.8 L1149.5 661.2 L1150.5 660.8 L1151.5 660.5 L1152.5 660.3 L1153.5 660.2 L1154.5 660.4 L1155.5 660.6 L1156.5 661.1 L1157.5 661.5 L1158.5 661.3 L1159.5 660.8 L1160.5 660.6 L1161.5 660.7 L1162.5 660.8 L1163.5 660.5 L1164.5 660.8 L1165.5 661.1 L1166.5 660.4 L1167.5 660.3 L1168.5 661.2 L1169.5 661.6 L1170.5 661.4 L1171.5 661.6 L1172.5 662.2 L1173.5 661.7 L1174.5 660.7 L1175.5 660.9 L1176.5 661.1 L1177.5 660.9 L1178.5 661.2 L1179.5 660.9 L1180.5 660.7 L1181.5 661.5 L1182.5 661.6 L1183.5 661.2 L1184.5 661.3 L1185.5 661.5 L1186.5 661.0 L1187.5 660.5 L1188.5 660.7 L1189.5 660.8 L1190.5 660.2 L1191.5 660.1 L1192.5 660.5 L1193.5 660.0 L1194.5 659.8 L1195.5 660.2 L1196.5 660.7 L1197.5 661.6 L1198.5 662.0 L1199.5 661.1 L1200.5 660.4 L1201.5 661.2 L1202.5 662.1 L1203.5 661.9 L1204.5 661.6 L1205.5 661.6 L1206.5 661.1 L1207.5 660.8 L1208.5 660.6 L1209.5 660.3 L1210.5 660.6 L1211.5 660.9 L1212.5 660.6 L1213.5 660.8 L1214.5 661.3 L1215.5 661.2 L1216.5 660.6 L1217.5 660.2 L1218.5 660.6 L1219.5 661.1 L1220.5 660.7 L1221.5 660.0 L1222.5 660.4 L1223.5 661.6 L1224.5 661.8 L1225.5 661.3 L1226.5 661.1 L1227.5 661.2 L1228.5 661.8 L1229.5 662.0 L1230.5 661.5 L1231.5 660.8 L1232.5 661.1 L1233.5 661.2 L1234.5 660.6 L1235.5 660.5 L1236.5 660.8 L1237.5 660.6 L1238.5 660.5 L1239.5 660.8 L1240.5 661.1 L1241.5 660.5 L1242.5 659.8 L1243.5 660.4 L1244.5 661.1 L1245.5 661.1 L1246.5 661.1 L1247.5 661.3 L1248.5 661.1 L1249.5 660.7 L1250.5 661.4 L1251.5 661.6 L1252.5 660.4 L1253.5 660.3 L1254.5 660.8 L1255.5 661.0 L1256.5 661.2 L1257.5 661.2 L1258.5 661.7 L1259.5 661.6 L1260.5 660.7 L1261.5 660.7 L1262.5 661.2 L1263.5 660.9 L1264.5 660.6 L1265.5 661.4 L1266.5 661.6 L1267.5 661.0 L1268.5 660.7 L1269.5 660.9 L1270.5 660.9 L1271.5 660.7 L1272.5 660.6 L1273.5 660.1 L1274.5 659.7 L1275.5 660.6 L1276.5 661.2 L1277.5 660.8 L1278.5 661.1 L1279.5 661.5 L1280.5 660.7 L1281.5 659.7 L1282.5 659.9 L1283.5 660.4 L1284.5 660.5 L1285.5 660.8 L1286.5 661.0 L1287.5 661.5 L1288.5 661.6 L1289.5 661.0 L1290.5 660.7 L1291.5 660.5 L1292.5 660.6 L1293.5 660.5 L1294.5 660.3 L1295.5 660.4 L1296.5 660.8 L1297.5 660.9 L1298.5 661.2 L1299.5 661.6 L1300.5 661.7 L1301.5 661.6 L1302.5 661.1 L1303.5 660.5 L1304.5 660.4 L1305.5 660.9 L1306.5 660.9 L1307.5 660.9 L1308.5 661.1 L1309.5 660.5 L1310.5 660.3 L1311.5 661.1 L1312.5 661.3 L1313.5 661.0 L1314.5 660.9 L1315.5 660.4 L1316.5 660.3 L1317.5 660.7 L1318.5 660.4 L1319.5 659.9 L1320.5 659.8 L1321.5 659.9 L1322.5 660.4 L1323.5 660.5 L1324.5 660.2 L1325.5 660.3 L1326.5 660.8 L1327.5 661.4 L1328.5 661.4 L1329.5 660.7 L1330.5 661.2 L1331.5 661.5 L1332.5 660.3 L1333.5 660.0 L1334.5 660.9 L1335.5 661.6 L1336.5 661.2 L1337.5 660.6 L1338.5 660.7 L1339.5 661.1 L1340.5 661.1 L1341.5 660.3 L1342.5 659.6 L1343.5 660.1 L1344.5 660.7 L1345.5 661.1 L1346.5 661.7 L1347.5 662.0 L1348.5 661.5 L1349.5 660.9 L1350.5 660.7 L1351.5 660.7 L1352.5 660.4 L1353.5 660.6 L1354.5 661.6 L1355.5 661.8 L1356.5 661.1 L1357.5 660.8 L1358.5 660.5 L1359.5 660.5 L1360.5 661.0 L1361.5 661.6 L1362.5 661.6 L1363.5 661.1 L1364.5 660.9 L1365.5 660.8 L1366.5 660.5 L1367.5 660.4 L1368.5 660.6 L1369.5 660.3 L1370.5 660.2 L1371.5 660.3 L1372.5 660.3 L1373.5 660.2 L1374.5 659.8 L1375.5 659.8 L1376.5 660.2 L1377.5 660.5 L1378.5 661.4 L1379.5 662.1 L1380.5 661.7 L1381.5 660.7 L1382.5 660.5 L1383.5 660.5 L1384.5 660.7 L1385.5 661.0 L1386.5 660.4 L1387.5 660.1 L1388.5 660.4 L1389.5 661.0 L1390.5 661.8 L1391.5 661.9 L1392.5 661.7 L1393.5 662.1 L1394.5 661.8 L1395.5 660.9 L1396.5 660.9 L1397.5 661.6 L1398.5 661.8 L1399.5 661.1 L1400.5 660.2 L1401.5 660.3 L1402.5 660.8 L1403.5 660.8 L1404.5 661.3 L1405.5 662.0 L1406.5 661.6 L1407.5 660.9 L1408.5 660.7 L1409.5 660.9 L1410.5 661.7 L1411.5 662.1 L1412.5 662.0 L1413.5 661.8 L1414.5 661.5 L1415.5 661.3 L1416.5 660.7 L1417.5 660.3 L1418.5 660.9 L1419.5 661.3 L1420.5 661.0 L1421.5 661.3 L1422.5 661.2 L1423.5 660.4 L1424.5 660.6 L1425.5 661.1 L1426.5 661.0 L1427.5 660.6 L1428.5 661.0 L1429.5 661.8 L1430.5 662.0 L1431.5 661.6 L1432.5 661.3 L1433.5 661.4 L1434.5 661.4 L1435.5 661.0 L1436.5 660.4 L1437.5 660.3 L1438.5 661.0 L1439.5 661.7 L1440.5 661.8 L1441.5 661.2 L1442.5 661.0 L1443.5 661.0 L1444.5 660.9 L1445.5 661.6 L1446.5 662.0 L1447.5 661.4 L1448.5 661.1 L1449.5 661.0 L1450.5 661.2 L1451.5 661.4 L1452.5 661.2 L1453.5 661.4 L1454.5 661.9 L1455.5 661.7 L1456.5 661.2 L1457.5 661.4 L1458.5 661.3 L1459.5 660.6 L1460.5 660.1 L1461.5 660.7 L1462.5 661.2 L1463.5 660.6 L1464.5 660.0 L1465.5 660.4 L1466.5 660.7 L1467.5 660.4 L1468.5 660.3 L1469.5 660.8 L1470.5 661.0 L1471.5 661.4 L1472.5 661.4 L1473.5 660.9 L1474.5 661.0 L1475.5 661.1 L1476.5 660.3 L1477.5 660.2 L1478.5 660.8 L1479.5 660.8 L1480.5 661.5 L1481.5 661.6 L1482.5 661.0 L1483.5 660.8 L1484.5 660.8 L1485.5 661.0 L1486.5 660.9 L1487.5 661.3 L1488.5 661.6 L1489.5 661.4 L1490.5 661.5 L1491.5 660.9 L1492.5 660.3 L1493.5 660.4 L1494.5 660.2 L1495.5 660.1 L1496.5 661.0 L1497.5 661.3 L1498.5 660.9 L1499.5 661.1 L1500.5 660.6 L1501.5 660.5 L1502.5 661.4 L1503.5 661.3 L1504.5 660.5 L1505.5 660.0 L1506.5 660.0 L1507.5 660.4 L1508.5 660.1 L1509.5 660.1 L1510.5 661.0 L1511.5 661.2 L1512.5 660.2 L1513.5 659.9 L1514.5 660.2 L1515.5 660.3 L1516.5 660.8 L1517.5 661.2 L1518.5 660.5 L1519.5 660.2 L1520.5 660.7 L1521.5 660.6 L1522.5 660.6 L1523.5 661.2 L1524.5 661.4 L1525.5 661.2 L1526.5 661.2 L1527.5 660.9 L1528.5 660.8 L1529.5 660.9 L1530.5 661.1 L1531.5 661.7 L1532.5 661.8 L1533.5 660.9 L1534.5 660.2 L1535.5 660.3 L1536.5 660.9 L1537.5 661.2 L1538.5 660.8 L1539.5 660.2 L1540.5 660.4 L1541.5 661.2 L1542.5 661.1 L1543.5 660.5 L1544.5 660.4 L1545.5 660.7 L1546.5 661.0 L1547.5 660.9 L1548.5 661.4 L1549.5 661.8 L1550.5 661.9 L1551.5 661.4 L1552.5 660.5 L1553.5 661.0 L1554.5 661.9 L1555.5 662.1 L1556.5 662.1 L1557.5 662.0 L1558.5 661.7 L1559.5 661.5 L1560.5 660.8 L1561.5 660.9 L1562.5 661.5 L1563.5 661.1 L1564.5 660.5 L1565.5 660.6 L1566.5 660.4 L1567.5 660.8 L1568.5 661.3 L1569.5 660.7 L1570.5 660.5 L1571.5 661.0 L1572.5 660.6 L1573.5 660.1 L1574.5 660.4 L1575.5 660.7 L1576.5 660.7 L1577.5 660.4 L1578.5 660.6 L1579.5 661.1 L1580.5 661.3 L1581.5 661.3 L1582.5 661.2 L1583.5 660.9 L1584.5 660.9 L1585.5 661.3 L1586.5 661.4 L1587.5 660.7 L1588.5 661.0 L1589.5 661.1 L1590.5 660.6 L1591.5 660.6 L1592.5 660.3 L1593.5 660.4 L1594.5 661.3 L1595.5 661.5 L1596.5 661.2 L1597.5 661.3 L1598.5 660.7 L1599.5 659.9 L1600.5 660.2 L1601.5 660.7 L1602.5 660.8 L1603.5 660.7 L1604.5 660.5 L1605.5 660.0 L1606.5 659.8 L1607.5 660.1 L1608.5 660.5 L1609.5 661.0 L1610.5 660.9 L1611.5 660.7 L1612.5 660.9 L1613.5 660.7 L1614.5 660.7 L1615.5 661.1 L1616.5 661.7 L1617.5 662.1 L1618.5 662.1 L1619.5 661.4 L1620.5 661.0 L1621.5 661.7 L1622.5 661.8 L1623.5 661.4 L1624.5 661.3 L1625.5 660.7 L1626.5 660.6 L1627.5 660.4 L1628.5 660.2 L1629.5 660.4 L1630.5 660.5 L1631.5 660.7 L1632.5 661.6 L1633.5 662.2 L1634.5 661.5 L1635.5 660.6 L1636.5 660.2 L1637.5 660.4 L1638.5 661.0 L1639.5 661.5 L1640.5 661.0 L1641.5 660.2 L1642.5 659.8 L1643.5 660.3 L1644.5 661.2 L1645.5 661.4 L1646.5 661.3 L1647.5 661.6 L1648.5 661.4 L1649.5 661.2 L1650.5 661.1 L1651.5 660.5 L1652.5 659.7 L1653.5 659.5 L1654.5 660.2 L1655.5 661.3 L1656.5 661.6 L1657.5 661.5 L1658.5 661.3 L1659.5 660.8 L1660.5 660.1 L1661.5 660.5 L1662.5 661.5 L1663.5 661.8 L1664.5 661.5 L1665.5 661.0 L1666.5 660.8 L1667.5 660.3 L1668.5 660.0 L1669.5 659.9 L1670.5 659.8 L1671.5 660.2 L1672.5 660.5 L1673.5 660.3 L1674.5 660.5 L1675.5 660.9 L1676.5 660.7 L1677.5 661.0 L1678.5 660.9 L1679.5 660.2 L1680.5 659.9 L1681.5 659.8 L1682.5 659.8 L1683.5 660.0 L1684.5 660.2 L1685.5 660.5 L1686.5 661.0 L1687.5 661.4 L1688.5 661.7 L1689.5 661.5 L1690.5 661.1 L1691.5 661.5 L1692.5 661.4 L1693.5 660.4 L1694.5 660.1 L1695.5 660.6 L1696.5 660.4 L1697.5 659.9 L1698.5 660.0 L1699.5 660.1 L1700.5 660.1 L1701.5 660.9 L1702.5 661.5 L1703.5 660.9 L1704.5 660.6 L1705.5 661.3 L1706.5 661.9 L1707.5 661.3 L1708.5 660.7 L1709.5 661.1 L1710.5 661.4 L1711.5 661.2 L1712.5 660.8 L1713.5 660.1 L1714.5 660.3 L1715.5 660.9 L1716.5 660.9 L1717.5 660.9 L1718.5 661.3 L1719.5 661.4 L1720.5 660.5 L1721.5 659.8 L1722.5 659.5 L1723.5 659.4 L1724.5 659.6 L1725.5 659.9 L1726.5 659.9 L1727.5 660.1 L1728.5 661.1 L1729.5 661.9 L1730.5 661.9 L1731.5 661.6 L1732.5 661.4 L1733.5 661.4 L1734.5 661.6 L1735.5 661.1 L1736.5 660.3 L1737.5 660.1 L1738.5 660.0 L1739.5 660.0 L1740.5 660.4 L1741.5 660.5 L1742.5 660.2 L1743.5 660.1 L1744.5 660.1 L1745.5 660.2 L1746.5 660.8 L1747.5 661.2 L1748.5 660.8 L1749.5 660.0 L1750.5 659.4 L1751.5 659.7 L1752.5 660.3 L1753.5 660.1 L1754.5 659.7 L1755.5 659.7 L1756.5 660.0 L1757.5 659.9 L1758.5 659.8 L1759.5 659.6 L1760.5 659.4 L1761.5 658.8 L1762.5 657.9 L1763.5 657.4 L1764.5 657.4 L1765.5 657.4 L1766.5 656.8 L1767.5 656.2 L1768.5 655.8 L1769.5 655.1 L1770.5 654.1 L1771.5 653.1 L1772.5 652.0 L1773.5 650.7 L1774.5 648.9 L1775.5 646.3 L1776.5 643.1 L1777.5 639.6 L1778.5 635.7 L1779.5 630.6 L1780.5 624.9 L1781.5 619.8 L1782.5 616.0 L1783.5 612.4 L1784.5 609.2 L1785.5 607.3 L1786.5 607.3 L1787.5 608.1 L1788.5 610.5 L1789.5 613.9 L1790.5 617.4 L1791.5 621.8 L1792.5 627.7 L1793.5 633.6 L1794.5 638.2 L1795.5 641.8 L1796.5 645.1 L1797.5 647.7 L1798.5 649.8 L1799.5 651.5 L1800.5 652.8 L1801.5 654.0 L1802.5 655.2 L1803.5 656.2 L1804.5 657.2 L1805.5 658.0 L1806.5 658.0 L1807.5 657.9 L1808.5 658.0 L1809.5 658.6 L1810.5 659.1 L1811.5 659.5 L1812.5 659.6 L1813.5 659.5 L1814.5 659.9 L1815.5 660.1 L1816.5 660.3 L1817.5 660.6 L1818.5 660.2 L1819.5 660.4 L1820.5 660.9 L1821.5 660.2 L1822.5 659.7 L1823.5 660.0 L1824.5 660.4 L1825.5 660.9 L1826.5 660.7 L1827.5 660.1 L1828.5 660.2 L1829.5 660.2 L1830.5 660.0 L1831.5 660.8 L1832.5 661.8 L1833.5 662.0 L1834.5 661.2 L1835.5 660.5 L1836.5 660.9 L1837.5 660.9 L1838.5 660.4 L1839.5 660.8 L1840.5 661.5 L1841.5 662.0 L1842.5 661.8 L1843.5 661.3 L1844.5 661.0 L1845.5 661.0 L1846.5 661.1 L1847.5 661.1 L1848.5 661.6 L1849.5 661.7 L1850.5 661.2 L1851.5 661.6 L1852.5 661.7 L1853.5 660.7 L1854.5 660.2 L1855.5 660.7 L1856.5 660.8 L1857.5 660.6 L1858.5 660.9 L1859.5 661.4 L1860.5 662.0 L1861.5 661.9 L1862.5 661.4 L1863.5 660.8 L1864.5 660.2 L1865.5 660.6 L1866.5 661.2 L1867.5 661.1 L1868.5 660.9 L1869.5 661.1 L1870.5 661.5 L1871.5 661.5 L1872.5 661.1 L1873.5 660.6 L1874.5 661.0 L1875.5 661.6 L1876.5 661.5 L1877.5 661.7 L1878.5 661.7 L1879.5 661.4 L1880.5 661.0 L1881.5 660.2 L1882.5 660.0 L1883.5 660.5 L1884.5 661.3 L1885.5 661.5 L1886.5 660.8 L1887.5 660.8 L1888.5 661.5 L1889.5 661.7 L1890.5 661.8 L1891.5 661.9 L1892.5 661.5 L1893.5 660.7 L1894.5 660.2 L1895.5 660.5 L1896.5 660.8 L1897.5 660.9 L1898.5 661.3 L1899.5 661.3 L1900.5 661.3 L1901.5 661.6 L1902.5 662.1 L1903.5 662.3 L1904.5 662.1 L1905.5 661.3 L1906.5 660.4 L1907.5 660.9 L1908.5 661.8 L1909.5 661.9 L1910.5 661.9 L1911.5 661.6 L1912.5 661.1 L1913.5 660.8 L1914.5 660.8 L1915.5 661.6 L1916.5 662.2 L1917.5 661.6 L1918.5 661.2 L1919.5 661.4 L1920.5 661.0 L1921.5 660.6 L1922.5 660.6 L1923.5 660.5 L1924.5 660.8 L1925.5 661.8 L1926.5 662.0 L1927.5 661.0 L1928.5 660.1 L1929.5 660.1 L1930.5 660.3 L1931.5 660.3 L1932.5 660.3 L1933.5 660.4 L1934.5 660.8 L1935.5 661.1 L1936.5 661.3 L1937.5 661.5 L1938.5 661.0 L1939.5 660.7 L1940.5 661.5 L1941.5 662.3 L1942.5 661.7 L1943.5 660.5 L1944.5 660.2 L1945.5 661.1 L1946.5 661.3 L1947.5 660.8 L1948.5 660.8 L1949.5 660.7 L1950.5 660.7 L1951.5 661.2 L1952.5 661.5"/>
</g>
<g class="ax">
<line x1="202.95" y1="24" x2="202.95" y2="1341.8" stroke-width="5"/>
<line x1="200.5" y1="1005.8" x2="1953.5" y2="1005.8" stroke-width="6.3"/>
<line x1="200.5" y1="1158.8" x2="1953.5" y2="1158.8" stroke-width="6.3"/>
<line x1="200.5" y1="1314.8" x2="1953.5" y2="1314.8" stroke-width="4.9"/>
<g stroke-width="5"><line x1="202.95" y1="1314" x2="202.95" y2="1341.8"/><line x1="494.38" y1="1314" x2="494.38" y2="1341.8"/><line x1="785.80" y1="1314" x2="785.80" y2="1341.8"/><line x1="1077.23" y1="1314" x2="1077.23" y2="1341.8"/><line x1="1368.65" y1="1314" x2="1368.65" y2="1341.8"/><line x1="1660.08" y1="1314" x2="1660.08" y2="1341.8"/><line x1="1951.50" y1="1314" x2="1951.50" y2="1341.8"/>
<line x1="348.66" y1="1314" x2="348.66" y2="1329.3"/><line x1="640.09" y1="1314" x2="640.09" y2="1329.3"/><line x1="931.51" y1="1314" x2="931.51" y2="1329.3"/><line x1="1222.94" y1="1314" x2="1222.94" y2="1329.3"/><line x1="1514.36" y1="1314" x2="1514.36" y2="1329.3"/><line x1="1805.79" y1="1314" x2="1805.79" y2="1329.3"/></g>
<g stroke-width="6.2">
<line x1="894.2" y1="1015.8" x2="894.2" y2="1159"/>
<line x1="1096.65" y1="1102.5" x2="1096.65" y2="1159"/>
<line x1="1792.15" y1="1123.75" x2="1792.15" y2="1159"/>
<line x1="715.2" y1="1169.2" x2="715.2" y2="1314"/>
<line x1="883.65" y1="1245" x2="883.65" y2="1314"/>
<line x1="1464.65" y1="1270" x2="1464.65" y2="1314"/>
<line x1="1823.65" y1="1265" x2="1823.65" y2="1314"/>
</g>
</g>
<g class="tl"><text x="201.8" y="1413.5" text-anchor="middle">20</text><text x="493.2" y="1413.5" text-anchor="middle">30</text><text x="784.6" y="1413.5" text-anchor="middle">40</text><text x="1076.0" y="1413.5" text-anchor="middle">50</text><text x="1367.5" y="1413.5" text-anchor="middle">60</text><text x="1658.9" y="1413.5" text-anchor="middle">70</text><text x="1950.3" y="1413.5" text-anchor="middle">80</text></g>
<text class="big" y="1532" style="font-size:102.5px"><tspan x="773.82" textLength="57.26" lengthAdjust="spacingAndGlyphs">2</tspan> <tspan x="881.25" textLength="229.36" lengthAdjust="spacingAndGlyphs">theta</tspan> <tspan x="1144.25" textLength="235.03" lengthAdjust="spacingAndGlyphs">(deg)</tspan></text>
<text class="big" transform="translate(98.7 1055.5) rotate(-90)" dx="0 0 0 0 0 0 0 0 0 0 -5 -0.5 2 0 0.1 3.4">Intensity (a.u.)</text>
<g class="bold">
<text y="1146"><tspan x="221.54" textLength="220.25" lengthAdjust="spacingAndGlyphs">Standard</tspan> <tspan x="451.49" textLength="60.54" lengthAdjust="spacingAndGlyphs">Cu</tspan></text>
<text y="1296"><tspan x="221.54" textLength="220.25" lengthAdjust="spacingAndGlyphs">Standard</tspan> <tspan x="450.28" textLength="65.36" lengthAdjust="spacingAndGlyphs">Ag</tspan></text>
<g class="r">
<text transform="translate(946.25 1151.50) rotate(-90)" textLength="125" lengthAdjust="spacingAndGlyphs">(111)</text>
<text transform="translate(1147.50 1155.00) rotate(-90)" textLength="125" lengthAdjust="spacingAndGlyphs">(200)</text>
<text transform="translate(1844.75 1151.00) rotate(-90)" textLength="125" lengthAdjust="spacingAndGlyphs">(220)</text>
<text transform="translate(775.50 1305.50) rotate(-90)" textLength="125" lengthAdjust="spacingAndGlyphs">(111)</text>
<text transform="translate(938.00 1305.50) rotate(-90)" textLength="125" lengthAdjust="spacingAndGlyphs">(200)</text>
<text transform="translate(1520.00 1309.50) rotate(-90)" textLength="125" lengthAdjust="spacingAndGlyphs">(220)</text>
<text transform="translate(1875.00 1308.00) rotate(-90)" textLength="122.5" lengthAdjust="spacingAndGlyphs">(311)</text>
</g>
</g>
<g stroke-width="6.4" fill="none">
<line x1="1046" y1="130.3" x2="1214.5" y2="130.3" stroke="#ff7f0a"/>
<line x1="1043.5" y1="209.4" x2="1212" y2="209.4" stroke="#ff0000"/>
<line x1="1046" y1="290.4" x2="1214.5" y2="290.4" stroke="#0000ff"/>
</g>
<g class="lg">
<text y="147.5"><tspan x="1245.03" textLength="269.47" lengthAdjust="spacingAndGlyphs">pristine</tspan> <tspan x="1540.17" textLength="245.15" lengthAdjust="spacingAndGlyphs">PPMM</tspan></text>
<text y="233"><tspan x="1246.30" textLength="300.59" lengthAdjust="spacingAndGlyphs">function</tspan><tspan x="1547.00" textLength="206.00" lengthAdjust="spacingAndGlyphs">alized</tspan> <tspan x="1778.08" textLength="244.08" lengthAdjust="spacingAndGlyphs">PPMM</tspan></text>
<text y="318.75"><tspan x="1246.90" textLength="91.81" lengthAdjust="spacingAndGlyphs">Cu</tspan> <tspan x="1362.36" textLength="201.86" lengthAdjust="spacingAndGlyphs">micro</tspan><tspan x="1568.25" textLength="391.33" lengthAdjust="spacingAndGlyphs">membrane</tspan></text>
</g>
</svg>
</body>
</html>
